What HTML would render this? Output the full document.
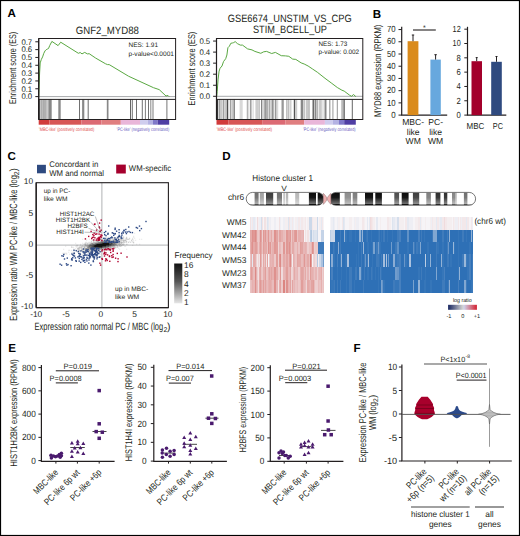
<!DOCTYPE html>
<html><head><meta charset="utf-8"><title>Figure</title>
<style>html,body{margin:0;padding:0;background:#fff;}body{width:520px;height:536px;overflow:hidden;font-family:"Liberation Sans", sans-serif;}svg{display:block;}text{text-rendering:geometricPrecision;}</style>
</head><body><svg width="520" height="536" viewBox="0 0 520 536" font-family='"Liberation Sans", sans-serif' fill="#231f20"><text x="7.60" y="16.90" font-size="11.6" fill="#000" font-weight="bold">A</text><text x="372.80" y="17.60" font-size="11.6" fill="#000" font-weight="bold">B</text><text x="7.40" y="159.90" font-size="11.6" fill="#000" font-weight="bold">C</text><text x="222.20" y="159.90" font-size="11.6" fill="#000" font-weight="bold">D</text><text x="8.20" y="352.20" font-size="11.6" fill="#000" font-weight="bold">E</text><text x="353.40" y="352.20" font-size="11.6" fill="#000" font-weight="bold">F</text><line x1="38.70" y1="96.60" x2="175.60" y2="96.60" stroke="#a7a9ac" stroke-width="1"/><polyline points="38.70,96.60 38.90,91.00 39.60,73.00 40.20,62.90 41.40,59.30 42.60,56.90 43.80,53.30 45.00,50.90 46.20,49.70 47.30,49.10 48.50,48.50 49.70,45.60 51.90,41.40 58.10,45.60 60.70,42.20 78.40,53.30 80.20,52.50 82.00,53.90 84.70,52.40 87.40,53.90 89.20,53.70 95.70,58.10 105.40,63.70 107.50,64.60 109.20,64.60 128.50,76.20 153.50,87.70 159.20,89.60 166.00,96.00 167.90,95.40 169.20,96.70" fill="none" stroke="#5aa842" stroke-width="1.0" stroke-linejoin="round"/><line x1="50.00" y1="99.40" x2="50.00" y2="119.50" stroke="#888" stroke-width="3.4000000000000057"/><line x1="59.50" y1="99.40" x2="59.50" y2="119.50" stroke="#8a8a8a" stroke-width="2.4000000000000057"/><line x1="45.65" y1="99.40" x2="45.65" y2="119.50" stroke="#b0b0b0" stroke-width="2.299999999999997"/><line x1="83.20" y1="99.40" x2="83.20" y2="119.50" stroke="#888" stroke-width="2.200000000000003"/><line x1="107.65" y1="99.40" x2="107.65" y2="119.50" stroke="#888" stroke-width="1.7000000000000028"/><line x1="38.90" y1="99.40" x2="38.90" y2="119.50" stroke="#000" stroke-width="1.4"/><line x1="42.30" y1="99.40" x2="42.30" y2="119.50" stroke="#bbb" stroke-width="1.3999999999999986"/><line x1="43.90" y1="99.40" x2="43.90" y2="119.50" stroke="#888" stroke-width="1.2000000000000028"/><line x1="47.40" y1="99.40" x2="47.40" y2="119.50" stroke="#ccc" stroke-width="1.2000000000000028"/><line x1="41.05" y1="99.40" x2="41.05" y2="119.50" stroke="#888" stroke-width="1.1000000000000014"/><line x1="153.00" y1="99.40" x2="153.00" y2="119.50" stroke="#888" stroke-width="1.1"/><line x1="166.90" y1="99.40" x2="166.90" y2="119.50" stroke="#666" stroke-width="0.9"/><line x1="88.20" y1="99.40" x2="88.20" y2="119.50" stroke="#444" stroke-width="0.8"/><line x1="79.50" y1="99.40" x2="79.50" y2="119.50" stroke="#333" stroke-width="0.7"/><line x1="130.50" y1="99.40" x2="130.50" y2="119.50" stroke="#222" stroke-width="0.7"/><line x1="132.30" y1="99.40" x2="132.30" y2="119.50" stroke="#333" stroke-width="0.7"/><line x1="136.50" y1="99.40" x2="136.50" y2="119.50" stroke="#333" stroke-width="0.7"/><line x1="142.30" y1="99.40" x2="142.30" y2="119.50" stroke="#333" stroke-width="0.7"/><line x1="145.40" y1="99.40" x2="145.40" y2="119.50" stroke="#444" stroke-width="0.7"/><line x1="148.50" y1="99.40" x2="148.50" y2="119.50" stroke="#333" stroke-width="0.7"/><line x1="150.80" y1="99.40" x2="150.80" y2="119.50" stroke="#555" stroke-width="0.7"/><rect x="38.70" y="38.50" width="136.90" height="81.00" fill="none" stroke="#231f20" stroke-width="1"/><line x1="38.70" y1="99.40" x2="175.60" y2="99.40" stroke="#231f20" stroke-width="1"/><line x1="38.70" y1="38.50" x2="38.70" y2="119.50" stroke="#231f20" stroke-width="1.2"/><line x1="35.30" y1="96.60" x2="38.70" y2="96.60" stroke="#231f20" stroke-width="1"/><text x="32.20" y="99.40" font-size="8.1" text-anchor="end" textLength="10.80" lengthAdjust="spacingAndGlyphs">0.0</text><line x1="35.30" y1="88.77" x2="38.70" y2="88.77" stroke="#231f20" stroke-width="1"/><text x="32.20" y="91.57" font-size="8.1" text-anchor="end" textLength="10.80" lengthAdjust="spacingAndGlyphs">0.1</text><line x1="35.30" y1="80.94" x2="38.70" y2="80.94" stroke="#231f20" stroke-width="1"/><text x="32.20" y="83.74" font-size="8.1" text-anchor="end" textLength="10.80" lengthAdjust="spacingAndGlyphs">0.2</text><line x1="35.30" y1="73.11" x2="38.70" y2="73.11" stroke="#231f20" stroke-width="1"/><text x="32.20" y="75.91" font-size="8.1" text-anchor="end" textLength="10.80" lengthAdjust="spacingAndGlyphs">0.3</text><line x1="35.30" y1="65.28" x2="38.70" y2="65.28" stroke="#231f20" stroke-width="1"/><text x="32.20" y="68.08" font-size="8.1" text-anchor="end" textLength="10.80" lengthAdjust="spacingAndGlyphs">0.4</text><line x1="35.30" y1="57.45" x2="38.70" y2="57.45" stroke="#231f20" stroke-width="1"/><text x="32.20" y="60.25" font-size="8.1" text-anchor="end" textLength="10.80" lengthAdjust="spacingAndGlyphs">0.5</text><line x1="35.30" y1="49.62" x2="38.70" y2="49.62" stroke="#231f20" stroke-width="1"/><text x="32.20" y="52.42" font-size="8.1" text-anchor="end" textLength="10.80" lengthAdjust="spacingAndGlyphs">0.6</text><line x1="35.30" y1="41.79" x2="38.70" y2="41.79" stroke="#231f20" stroke-width="1"/><text x="32.20" y="44.59" font-size="8.1" text-anchor="end" textLength="10.80" lengthAdjust="spacingAndGlyphs">0.7</text><text x="16.40" y="67.90" font-size="9.8" text-anchor="middle" textLength="72.20" lengthAdjust="spacingAndGlyphs" transform="rotate(-90 16.40 67.90)">Enrichment score (ES)</text><rect x="38.70" y="120.00" width="10.80" height="4.70" fill="#d13b3b"/><rect x="49.50" y="120.00" width="32.00" height="4.70" fill="#d75656"/><rect x="81.50" y="120.00" width="19.90" height="4.70" fill="#dc6a74"/><rect x="101.40" y="120.00" width="19.40" height="4.70" fill="#e07e80"/><rect x="120.80" y="120.00" width="19.20" height="4.70" fill="#e9b6d9"/><rect x="140.00" y="120.00" width="7.70" height="4.70" fill="#cfcdee"/><rect x="147.70" y="120.00" width="5.30" height="4.70" fill="#b4b2e3"/><rect x="153.00" y="120.00" width="4.70" height="4.70" fill="#7f78c9"/><rect x="157.70" y="120.00" width="11.50" height="4.70" fill="#4f3ea4"/><text x="107.30" y="33.50" font-size="10.6" text-anchor="middle" textLength="63.10" lengthAdjust="spacingAndGlyphs">GNF2_MYD88</text><text x="128.50" y="47.30" font-size="6.5" textLength="29.50" lengthAdjust="spacingAndGlyphs">NES: 1.91</text><text x="128.50" y="55.60" font-size="6.5" textLength="45.50" lengthAdjust="spacingAndGlyphs">p-value&lt;0.0001</text><text x="38.80" y="131.20" font-size="5.0" textLength="55.50" lengthAdjust="spacingAndGlyphs" fill="#e0494a">&#8217;MBC-like&#8217; (positively correlated)</text><text x="116.60" y="131.00" font-size="5.0" textLength="52.60" lengthAdjust="spacingAndGlyphs" fill="#6a5cc0">&#8217;PC-like&#8217; (negatively correlated)</text><line x1="216.50" y1="96.30" x2="362.80" y2="96.30" stroke="#a7a9ac" stroke-width="1"/><polyline points="216.60,96.80 217.20,91.60 218.10,79.10 219.10,71.10 220.10,68.20 222.00,66.00 223.50,61.60 225.70,58.70 226.90,55.00 227.90,47.70 229.40,46.20 230.80,43.30 232.30,43.00 233.70,42.60 235.20,41.60 237.40,43.60 240.30,45.10 242.50,45.10 247.60,48.90 252.00,49.90 254.90,51.40 260.80,53.30 263.70,51.80 266.60,51.40 271.70,53.50 275.40,52.40 281.30,55.70 285.60,55.90 288.80,56.30 292.70,59.10 295.80,59.40 301.20,62.90 304.20,64.00 308.10,66.00 312.70,69.10 317.30,72.20 325.00,78.30 331.20,82.90 337.30,87.50 341.90,90.20 344.20,91.10 349.60,95.20 351.50,96.30 353.50,94.50 355.80,96.60" fill="none" stroke="#5aa842" stroke-width="1.0" stroke-linejoin="round"/><line x1="266.00" y1="99.40" x2="266.00" y2="119.50" stroke="#b0b0b0" stroke-width="5.0"/><line x1="307.25" y1="99.40" x2="307.25" y2="119.50" stroke="#c8c8c8" stroke-width="3.1000000000000227"/><line x1="241.15" y1="99.40" x2="241.15" y2="119.50" stroke="#d8d8d8" stroke-width="3.0999999999999943"/><line x1="256.95" y1="99.40" x2="256.95" y2="119.50" stroke="#cdcdcd" stroke-width="3.0999999999999943"/><line x1="320.30" y1="99.40" x2="320.30" y2="119.50" stroke="#c8c8c8" stroke-width="3.0"/><line x1="221.35" y1="99.40" x2="221.35" y2="119.50" stroke="#c8c8c8" stroke-width="2.6999999999999886"/><line x1="302.05" y1="99.40" x2="302.05" y2="119.50" stroke="#888" stroke-width="2.6999999999999886"/><line x1="342.50" y1="99.40" x2="342.50" y2="119.50" stroke="#bbb" stroke-width="2.6000000000000227"/><line x1="225.35" y1="99.40" x2="225.35" y2="119.50" stroke="#c8c8c8" stroke-width="2.3000000000000114"/><line x1="282.65" y1="99.40" x2="282.65" y2="119.50" stroke="#999" stroke-width="2.3000000000000114"/><line x1="315.50" y1="99.40" x2="315.50" y2="119.50" stroke="#888" stroke-width="2.0"/><line x1="325.50" y1="99.40" x2="325.50" y2="119.50" stroke="#888" stroke-width="2.0"/><line x1="286.85" y1="99.40" x2="286.85" y2="119.50" stroke="#c0c0c0" stroke-width="1.6999999999999886"/><line x1="271.20" y1="99.40" x2="271.20" y2="119.50" stroke="#c8c8c8" stroke-width="1.6000000000000227"/><line x1="232.75" y1="99.40" x2="232.75" y2="119.50" stroke="#c8c8c8" stroke-width="1.5"/><line x1="250.75" y1="99.40" x2="250.75" y2="119.50" stroke="#c0c0c0" stroke-width="1.5"/><line x1="275.75" y1="99.40" x2="275.75" y2="119.50" stroke="#999" stroke-width="1.5"/><line x1="290.75" y1="99.40" x2="290.75" y2="119.50" stroke="#d0d0d0" stroke-width="1.5"/><line x1="294.55" y1="99.40" x2="294.55" y2="119.50" stroke="#555" stroke-width="1.5"/><line x1="296.60" y1="99.40" x2="296.60" y2="119.50" stroke="#ccc" stroke-width="1.1999999999999886"/><line x1="313.20" y1="99.40" x2="313.20" y2="119.50" stroke="#444" stroke-width="1.1999999999999886"/><line x1="329.80" y1="99.40" x2="329.80" y2="119.50" stroke="#999" stroke-width="1.1999999999999886"/><line x1="332.90" y1="99.40" x2="332.90" y2="119.50" stroke="#aaa" stroke-width="1.1999999999999886"/><line x1="261.75" y1="99.40" x2="261.75" y2="119.50" stroke="#666" stroke-width="1.1000000000000227"/><line x1="217.30" y1="99.40" x2="217.30" y2="119.50" stroke="#111" stroke-width="1.1"/><line x1="227.30" y1="99.40" x2="227.30" y2="119.50" stroke="#222" stroke-width="1.0"/><line x1="234.20" y1="99.40" x2="234.20" y2="119.50" stroke="#444" stroke-width="0.9"/><line x1="344.20" y1="99.40" x2="344.20" y2="119.50" stroke="#333" stroke-width="0.9"/><line x1="352.30" y1="99.40" x2="352.30" y2="119.50" stroke="#555" stroke-width="0.9"/><line x1="253.10" y1="99.40" x2="253.10" y2="119.50" stroke="#ccc" stroke-width="0.8000000000000114"/><line x1="219.20" y1="99.40" x2="219.20" y2="119.50" stroke="#555" stroke-width="0.8"/><line x1="230.80" y1="99.40" x2="230.80" y2="119.50" stroke="#555" stroke-width="0.8"/><line x1="247.30" y1="99.40" x2="247.30" y2="119.50" stroke="#888" stroke-width="0.8"/><line x1="250.80" y1="99.40" x2="250.80" y2="119.50" stroke="#888" stroke-width="0.8"/><line x1="272.70" y1="99.40" x2="272.70" y2="119.50" stroke="#555" stroke-width="0.8"/><line x1="288.80" y1="99.40" x2="288.80" y2="119.50" stroke="#888" stroke-width="0.8"/><line x1="337.30" y1="99.40" x2="337.30" y2="119.50" stroke="#777" stroke-width="0.8"/><line x1="223.50" y1="99.40" x2="223.50" y2="119.50" stroke="#777" stroke-width="0.7"/><line x1="228.80" y1="99.40" x2="228.80" y2="119.50" stroke="#aaa" stroke-width="0.7"/><line x1="248.80" y1="99.40" x2="248.80" y2="119.50" stroke="#bbb" stroke-width="0.7"/><line x1="259.20" y1="99.40" x2="259.20" y2="119.50" stroke="#888" stroke-width="0.7"/><line x1="269.60" y1="99.40" x2="269.60" y2="119.50" stroke="#777" stroke-width="0.7"/><line x1="273.80" y1="99.40" x2="273.80" y2="119.50" stroke="#888" stroke-width="0.7"/><line x1="277.70" y1="99.40" x2="277.70" y2="119.50" stroke="#bbb" stroke-width="0.7"/><line x1="304.50" y1="99.40" x2="304.50" y2="119.50" stroke="#aaa" stroke-width="0.7"/><line x1="309.20" y1="99.40" x2="309.20" y2="119.50" stroke="#888" stroke-width="0.7"/><line x1="317.60" y1="99.40" x2="317.60" y2="119.50" stroke="#888" stroke-width="0.7"/><line x1="323.00" y1="99.40" x2="323.00" y2="119.50" stroke="#bbb" stroke-width="0.7"/><line x1="265.50" y1="99.40" x2="265.50" y2="119.50" stroke="#888" stroke-width="0.6"/><rect x="216.50" y="38.50" width="146.30" height="81.00" fill="none" stroke="#231f20" stroke-width="1"/><line x1="216.50" y1="99.40" x2="362.80" y2="99.40" stroke="#231f20" stroke-width="1"/><line x1="216.50" y1="38.50" x2="216.50" y2="119.50" stroke="#231f20" stroke-width="1.2"/><line x1="213.10" y1="96.30" x2="216.50" y2="96.30" stroke="#231f20" stroke-width="1"/><text x="210.20" y="99.10" font-size="8.1" text-anchor="end" textLength="10.80" lengthAdjust="spacingAndGlyphs">0.0</text><line x1="213.10" y1="85.25" x2="216.50" y2="85.25" stroke="#231f20" stroke-width="1"/><text x="210.20" y="88.05" font-size="8.1" text-anchor="end" textLength="10.80" lengthAdjust="spacingAndGlyphs">0.1</text><line x1="213.10" y1="74.20" x2="216.50" y2="74.20" stroke="#231f20" stroke-width="1"/><text x="210.20" y="77.00" font-size="8.1" text-anchor="end" textLength="10.80" lengthAdjust="spacingAndGlyphs">0.2</text><line x1="213.10" y1="63.15" x2="216.50" y2="63.15" stroke="#231f20" stroke-width="1"/><text x="210.20" y="65.95" font-size="8.1" text-anchor="end" textLength="10.80" lengthAdjust="spacingAndGlyphs">0.3</text><line x1="213.10" y1="52.10" x2="216.50" y2="52.10" stroke="#231f20" stroke-width="1"/><text x="210.20" y="54.90" font-size="8.1" text-anchor="end" textLength="10.80" lengthAdjust="spacingAndGlyphs">0.4</text><line x1="213.10" y1="41.05" x2="216.50" y2="41.05" stroke="#231f20" stroke-width="1"/><text x="210.20" y="43.85" font-size="8.1" text-anchor="end" textLength="10.80" lengthAdjust="spacingAndGlyphs">0.5</text><text x="194.90" y="68.60" font-size="9.8" text-anchor="middle" textLength="73.80" lengthAdjust="spacingAndGlyphs" transform="rotate(-90 194.90 68.60)">Enrichment score (ES)</text><rect x="216.50" y="120.00" width="12.10" height="4.70" fill="#d13b3b"/><rect x="228.60" y="120.00" width="34.10" height="4.70" fill="#d75656"/><rect x="262.70" y="120.00" width="22.90" height="4.70" fill="#dc6a74"/><rect x="285.60" y="120.00" width="18.60" height="4.70" fill="#e07e80"/><rect x="304.20" y="120.00" width="20.70" height="4.70" fill="#e9b6d9"/><rect x="324.90" y="120.00" width="7.80" height="4.70" fill="#cfcdee"/><rect x="332.70" y="120.00" width="6.10" height="4.70" fill="#b4b2e3"/><rect x="338.80" y="120.00" width="5.40" height="4.70" fill="#7f78c9"/><rect x="344.20" y="120.00" width="11.60" height="4.70" fill="#4f3ea4"/><text x="289.70" y="22.00" font-size="10.6" text-anchor="middle" textLength="123.90" lengthAdjust="spacingAndGlyphs">GSE6674_UNSTIM_VS_CPG</text><text x="290.00" y="33.00" font-size="10.6" text-anchor="middle" textLength="74.00" lengthAdjust="spacingAndGlyphs">STIM_BCELL_UP</text><text x="318.50" y="46.00" font-size="6.5" textLength="28.80" lengthAdjust="spacingAndGlyphs">NES: 1.73</text><text x="318.50" y="53.70" font-size="6.5" textLength="40.70" lengthAdjust="spacingAndGlyphs">p-value: 0.002</text><text x="216.60" y="131.20" font-size="5.0" textLength="55.50" lengthAdjust="spacingAndGlyphs" fill="#e0494a">&#8217;MBC-like&#8217; (positively correlated)</text><text x="303.00" y="131.00" font-size="5.0" textLength="52.60" lengthAdjust="spacingAndGlyphs" fill="#6a5cc0">&#8217;PC-like&#8217; (negatively correlated)</text><line x1="401.70" y1="26.80" x2="401.70" y2="115.10" stroke="#231f20" stroke-width="1.2"/><line x1="401.10" y1="115.10" x2="447.20" y2="115.10" stroke="#231f20" stroke-width="1.2"/><line x1="398.50" y1="115.10" x2="401.70" y2="115.10" stroke="#231f20" stroke-width="1"/><text x="395.60" y="117.80" font-size="8.9" text-anchor="end" textLength="4.40" lengthAdjust="spacingAndGlyphs">0</text><line x1="398.50" y1="102.88" x2="401.70" y2="102.88" stroke="#231f20" stroke-width="1"/><text x="395.60" y="105.58" font-size="8.9" text-anchor="end" textLength="8.60" lengthAdjust="spacingAndGlyphs">10</text><line x1="398.50" y1="90.66" x2="401.70" y2="90.66" stroke="#231f20" stroke-width="1"/><text x="395.60" y="93.36" font-size="8.9" text-anchor="end" textLength="8.60" lengthAdjust="spacingAndGlyphs">20</text><line x1="398.50" y1="78.44" x2="401.70" y2="78.44" stroke="#231f20" stroke-width="1"/><text x="395.60" y="81.14" font-size="8.9" text-anchor="end" textLength="8.60" lengthAdjust="spacingAndGlyphs">30</text><line x1="398.50" y1="66.22" x2="401.70" y2="66.22" stroke="#231f20" stroke-width="1"/><text x="395.60" y="68.92" font-size="8.9" text-anchor="end" textLength="8.60" lengthAdjust="spacingAndGlyphs">40</text><line x1="398.50" y1="54.00" x2="401.70" y2="54.00" stroke="#231f20" stroke-width="1"/><text x="395.60" y="56.70" font-size="8.9" text-anchor="end" textLength="8.60" lengthAdjust="spacingAndGlyphs">50</text><line x1="398.50" y1="41.78" x2="401.70" y2="41.78" stroke="#231f20" stroke-width="1"/><text x="395.60" y="44.48" font-size="8.9" text-anchor="end" textLength="8.60" lengthAdjust="spacingAndGlyphs">60</text><line x1="398.50" y1="29.56" x2="401.70" y2="29.56" stroke="#231f20" stroke-width="1"/><text x="395.60" y="32.26" font-size="8.9" text-anchor="end" textLength="8.60" lengthAdjust="spacingAndGlyphs">70</text><rect x="407.60" y="41.20" width="10.80" height="73.90" fill="#da8b1c"/><line x1="413.00" y1="35.00" x2="413.00" y2="41.20" stroke="#231f20" stroke-width="1"/><line x1="411.80" y1="35.00" x2="414.20" y2="35.00" stroke="#231f20" stroke-width="1"/><rect x="430.40" y="59.60" width="10.40" height="55.50" fill="#67a8de"/><line x1="435.60" y1="54.70" x2="435.60" y2="59.60" stroke="#231f20" stroke-width="1"/><line x1="434.40" y1="54.70" x2="436.80" y2="54.70" stroke="#231f20" stroke-width="1"/><line x1="413.00" y1="30.00" x2="435.80" y2="30.00" stroke="#231f20" stroke-width="1.1"/><text x="424.30" y="30.40" font-size="7" text-anchor="middle">*</text><text x="381.00" y="70.80" font-size="9.8" text-anchor="middle" textLength="92.30" lengthAdjust="spacingAndGlyphs" transform="rotate(-90 381.00 70.80)">MYD88 expression (RPKM)</text><text x="413.20" y="125.40" font-size="8.6" text-anchor="middle">MBC-</text><text x="413.20" y="134.60" font-size="8.6" text-anchor="middle">like</text><text x="413.20" y="143.80" font-size="8.6" text-anchor="middle">WM</text><text x="435.60" y="125.40" font-size="8.6" text-anchor="middle">PC-</text><text x="435.60" y="134.60" font-size="8.6" text-anchor="middle">like</text><text x="435.60" y="143.80" font-size="8.6" text-anchor="middle">WM</text><line x1="467.50" y1="26.80" x2="467.50" y2="115.10" stroke="#231f20" stroke-width="1.2"/><line x1="466.90" y1="115.10" x2="506.30" y2="115.10" stroke="#231f20" stroke-width="1.2"/><line x1="464.30" y1="115.10" x2="467.50" y2="115.10" stroke="#231f20" stroke-width="1"/><text x="460.70" y="118.00" font-size="8.8" text-anchor="end" textLength="4.30" lengthAdjust="spacingAndGlyphs">0</text><line x1="464.30" y1="100.78" x2="467.50" y2="100.78" stroke="#231f20" stroke-width="1"/><text x="460.70" y="103.68" font-size="8.8" text-anchor="end" textLength="4.30" lengthAdjust="spacingAndGlyphs">2</text><line x1="464.30" y1="86.46" x2="467.50" y2="86.46" stroke="#231f20" stroke-width="1"/><text x="460.70" y="89.36" font-size="8.8" text-anchor="end" textLength="4.30" lengthAdjust="spacingAndGlyphs">4</text><line x1="464.30" y1="72.14" x2="467.50" y2="72.14" stroke="#231f20" stroke-width="1"/><text x="460.70" y="75.04" font-size="8.8" text-anchor="end" textLength="4.30" lengthAdjust="spacingAndGlyphs">6</text><line x1="464.30" y1="57.82" x2="467.50" y2="57.82" stroke="#231f20" stroke-width="1"/><text x="460.70" y="60.72" font-size="8.8" text-anchor="end" textLength="4.30" lengthAdjust="spacingAndGlyphs">8</text><line x1="464.30" y1="43.50" x2="467.50" y2="43.50" stroke="#231f20" stroke-width="1"/><text x="460.70" y="46.40" font-size="8.8" text-anchor="end" textLength="8.10" lengthAdjust="spacingAndGlyphs">10</text><line x1="464.30" y1="29.18" x2="467.50" y2="29.18" stroke="#231f20" stroke-width="1"/><text x="460.70" y="32.08" font-size="8.8" text-anchor="end" textLength="8.10" lengthAdjust="spacingAndGlyphs">12</text><rect x="471.50" y="61.20" width="10.50" height="53.90" fill="#a3002b"/><line x1="476.70" y1="57.60" x2="476.70" y2="61.20" stroke="#231f20" stroke-width="1"/><line x1="475.70" y1="57.60" x2="477.70" y2="57.60" stroke="#231f20" stroke-width="1"/><rect x="491.20" y="61.80" width="10.60" height="53.30" fill="#2f4a7f"/><line x1="496.50" y1="56.50" x2="496.50" y2="61.80" stroke="#231f20" stroke-width="1"/><line x1="495.50" y1="56.50" x2="497.50" y2="56.50" stroke="#231f20" stroke-width="1"/><text x="475.40" y="129.20" font-size="8.6" text-anchor="middle" textLength="17.80" lengthAdjust="spacingAndGlyphs">MBC</text><text x="497.90" y="129.20" font-size="8.6" text-anchor="middle" textLength="10.20" lengthAdjust="spacingAndGlyphs">PC</text><line x1="101.90" y1="182.70" x2="101.90" y2="307.60" stroke="#b0b2b4" stroke-width="1"/><line x1="36.20" y1="245.10" x2="168.40" y2="245.10" stroke="#b0b2b4" stroke-width="1"/><filter id="bl1" x="-5%" y="-5%" width="110%" height="110%"><feGaussianBlur stdDeviation="0.55"/></filter><g filter="url(#bl1)"><path d="M134.2 232.7h1v1h-1zM110.2 234.7h1v1h-1zM121.2 234.7h1v1h-1zM98.2 235.7h1v1h-1zM118.2 235.7h1v1h-1zM121.2 235.7h1v1h-1zM123.2 235.7h1v1h-1zM133.2 235.7h1v1h-1zM106.2 236.7h1v1h-1zM108.2 236.7h1v1h-1zM110.2 236.7h1v1h-1zM113.2 236.7h1v1h-1zM116.2 236.7h1v1h-1zM118.2 236.7h1v1h-1zM119.2 236.7h1v1h-1zM121.2 236.7h1v1h-1zM133.2 236.7h1v1h-1zM103.2 237.7h1v1h-1zM105.2 237.7h1v1h-1zM106.2 237.7h1v1h-1zM107.2 237.7h1v1h-1zM111.2 237.7h1v1h-1zM112.2 237.7h1v1h-1zM113.2 237.7h1v1h-1zM115.2 237.7h1v1h-1zM116.2 237.7h1v1h-1zM120.2 237.7h1v1h-1zM125.2 237.7h1v1h-1zM132.2 237.7h1v1h-1zM134.2 237.7h1v1h-1zM82.2 238.7h1v1h-1zM89.2 238.7h1v1h-1zM101.2 238.7h1v1h-1zM102.2 238.7h1v1h-1zM107.2 238.7h1v1h-1zM108.2 238.7h1v1h-1zM115.2 238.7h1v1h-1zM117.2 238.7h1v1h-1zM119.2 238.7h1v1h-1zM122.2 238.7h1v1h-1zM123.2 238.7h1v1h-1zM125.2 238.7h1v1h-1zM129.2 238.7h1v1h-1zM139.2 238.7h1v1h-1zM141.2 238.7h1v1h-1zM86.2 239.7h1v1h-1zM94.2 239.7h1v1h-1zM99.2 239.7h1v1h-1zM112.2 239.7h1v1h-1zM119.2 239.7h1v1h-1zM133.2 239.7h1v1h-1zM135.2 239.7h1v1h-1zM95.2 240.7h1v1h-1zM118.2 240.7h1v1h-1zM120.2 240.7h1v1h-1zM121.2 240.7h1v1h-1zM124.2 240.7h1v1h-1zM125.2 240.7h1v1h-1zM129.2 240.7h1v1h-1zM131.2 240.7h1v1h-1zM132.2 240.7h1v1h-1zM85.2 241.7h1v1h-1zM86.2 241.7h1v1h-1zM88.2 241.7h1v1h-1zM89.2 241.7h1v1h-1zM90.2 241.7h1v1h-1zM91.2 241.7h1v1h-1zM125.2 241.7h1v1h-1zM132.2 241.7h1v1h-1zM75.2 242.7h1v1h-1zM82.2 242.7h1v1h-1zM84.2 242.7h1v1h-1zM86.2 242.7h1v1h-1zM88.2 242.7h1v1h-1zM89.2 242.7h1v1h-1zM120.2 242.7h1v1h-1zM123.2 242.7h1v1h-1zM133.2 242.7h1v1h-1zM80.2 243.7h1v1h-1zM83.2 243.7h1v1h-1zM86.2 243.7h1v1h-1zM88.2 243.7h1v1h-1zM117.2 243.7h1v1h-1zM121.2 243.7h1v1h-1zM124.2 243.7h1v1h-1zM127.2 243.7h1v1h-1zM136.2 243.7h1v1h-1zM139.2 243.7h1v1h-1zM76.2 244.7h1v1h-1zM77.2 244.7h1v1h-1zM80.2 244.7h1v1h-1zM82.2 244.7h1v1h-1zM84.2 244.7h1v1h-1zM118.2 244.7h1v1h-1zM120.2 244.7h1v1h-1zM122.2 244.7h1v1h-1zM123.2 244.7h1v1h-1zM132.2 244.7h1v1h-1zM65.2 245.7h1v1h-1zM71.2 245.7h1v1h-1zM75.2 245.7h1v1h-1zM76.2 245.7h1v1h-1zM77.2 245.7h1v1h-1zM79.2 245.7h1v1h-1zM80.2 245.7h1v1h-1zM115.2 245.7h1v1h-1zM116.2 245.7h1v1h-1zM118.2 245.7h1v1h-1zM121.2 245.7h1v1h-1zM124.2 245.7h1v1h-1zM125.2 245.7h1v1h-1zM72.2 246.7h1v1h-1zM73.2 246.7h1v1h-1zM76.2 246.7h1v1h-1zM78.2 246.7h1v1h-1zM82.2 246.7h1v1h-1zM83.2 246.7h1v1h-1zM116.2 246.7h1v1h-1zM75.2 247.7h1v1h-1zM80.2 247.7h1v1h-1zM82.2 247.7h1v1h-1zM111.2 247.7h1v1h-1zM112.2 247.7h1v1h-1zM115.2 247.7h1v1h-1zM118.2 247.7h1v1h-1zM63.2 248.7h1v1h-1zM74.2 248.7h1v1h-1zM79.2 248.7h1v1h-1zM106.2 248.7h1v1h-1zM110.2 248.7h1v1h-1zM111.2 248.7h1v1h-1zM119.2 248.7h1v1h-1zM126.2 248.7h1v1h-1zM68.2 249.7h1v1h-1zM69.2 249.7h1v1h-1zM71.2 249.7h1v1h-1zM74.2 249.7h1v1h-1zM80.2 249.7h1v1h-1zM83.2 249.7h1v1h-1zM84.2 249.7h1v1h-1zM85.2 249.7h1v1h-1zM86.2 249.7h1v1h-1zM93.2 249.7h1v1h-1zM104.2 249.7h1v1h-1zM105.2 249.7h1v1h-1zM77.2 250.7h1v1h-1zM78.2 250.7h1v1h-1zM80.2 250.7h1v1h-1zM83.2 250.7h1v1h-1zM84.2 250.7h1v1h-1zM85.2 250.7h1v1h-1zM87.2 250.7h1v1h-1zM92.2 250.7h1v1h-1zM94.2 250.7h1v1h-1zM96.2 250.7h1v1h-1zM98.2 250.7h1v1h-1zM99.2 250.7h1v1h-1zM104.2 250.7h1v1h-1zM68.2 251.7h1v1h-1zM71.2 251.7h1v1h-1zM72.2 251.7h1v1h-1zM77.2 251.7h1v1h-1zM80.2 251.7h1v1h-1zM83.2 251.7h1v1h-1zM85.2 251.7h1v1h-1zM86.2 251.7h1v1h-1zM88.2 251.7h1v1h-1zM89.2 251.7h1v1h-1zM90.2 251.7h1v1h-1zM92.2 251.7h1v1h-1zM96.2 251.7h1v1h-1zM98.2 251.7h1v1h-1zM99.2 251.7h1v1h-1zM100.2 251.7h1v1h-1zM62.2 252.7h1v1h-1zM63.2 252.7h1v1h-1zM64.2 252.7h1v1h-1zM65.2 252.7h1v1h-1zM66.2 252.7h1v1h-1zM79.2 252.7h1v1h-1zM83.2 252.7h1v1h-1zM84.2 252.7h1v1h-1zM87.2 252.7h1v1h-1zM89.2 252.7h1v1h-1zM91.2 252.7h1v1h-1zM96.2 252.7h1v1h-1zM103.2 252.7h1v1h-1zM64.2 253.7h1v1h-1zM66.2 253.7h1v1h-1zM69.2 253.7h1v1h-1zM72.2 253.7h1v1h-1zM78.2 253.7h1v1h-1zM81.2 253.7h1v1h-1zM82.2 253.7h1v1h-1zM83.2 253.7h1v1h-1zM84.2 253.7h1v1h-1zM92.2 253.7h1v1h-1zM94.2 253.7h1v1h-1zM100.2 253.7h1v1h-1zM73.2 254.7h1v1h-1zM74.2 254.7h1v1h-1zM86.2 254.7h1v1h-1zM93.2 254.7h1v1h-1zM79.2 255.7h1v1h-1z" fill="#000" fill-opacity="0.115"/><path d="M112.2 236.7h1v1h-1zM123.2 236.7h1v1h-1zM126.2 236.7h1v1h-1zM114.2 237.7h1v1h-1zM118.2 237.7h1v1h-1zM123.2 237.7h1v1h-1zM129.2 237.7h1v1h-1zM100.2 238.7h1v1h-1zM106.2 238.7h1v1h-1zM110.2 238.7h1v1h-1zM112.2 238.7h1v1h-1zM113.2 238.7h1v1h-1zM118.2 238.7h1v1h-1zM120.2 238.7h1v1h-1zM126.2 238.7h1v1h-1zM127.2 238.7h1v1h-1zM128.2 238.7h1v1h-1zM132.2 238.7h1v1h-1zM92.2 239.7h1v1h-1zM95.2 239.7h1v1h-1zM98.2 239.7h1v1h-1zM100.2 239.7h1v1h-1zM101.2 239.7h1v1h-1zM102.2 239.7h1v1h-1zM103.2 239.7h1v1h-1zM108.2 239.7h1v1h-1zM111.2 239.7h1v1h-1zM114.2 239.7h1v1h-1zM120.2 239.7h1v1h-1zM121.2 239.7h1v1h-1zM122.2 239.7h1v1h-1zM91.2 240.7h1v1h-1zM93.2 240.7h1v1h-1zM95.2 241.7h1v1h-1zM123.2 241.7h1v1h-1zM124.2 241.7h1v1h-1zM126.2 241.7h1v1h-1zM130.2 241.7h1v1h-1zM85.2 242.7h1v1h-1zM87.2 242.7h1v1h-1zM90.2 242.7h1v1h-1zM118.2 242.7h1v1h-1zM84.2 243.7h1v1h-1zM87.2 243.7h1v1h-1zM123.2 243.7h1v1h-1zM126.2 243.7h1v1h-1zM86.2 244.7h1v1h-1zM121.2 244.7h1v1h-1zM81.2 245.7h1v1h-1zM83.2 245.7h1v1h-1zM117.2 245.7h1v1h-1zM119.2 245.7h1v1h-1zM120.2 245.7h1v1h-1zM71.2 246.7h1v1h-1zM80.2 246.7h1v1h-1zM112.2 246.7h1v1h-1zM115.2 246.7h1v1h-1zM117.2 246.7h1v1h-1zM79.2 247.7h1v1h-1zM81.2 247.7h1v1h-1zM83.2 247.7h1v1h-1zM84.2 247.7h1v1h-1zM106.2 247.7h1v1h-1zM107.2 247.7h1v1h-1zM73.2 248.7h1v1h-1zM77.2 248.7h1v1h-1zM78.2 248.7h1v1h-1zM84.2 248.7h1v1h-1zM96.2 248.7h1v1h-1zM102.2 248.7h1v1h-1zM103.2 248.7h1v1h-1zM109.2 248.7h1v1h-1zM82.2 249.7h1v1h-1zM90.2 249.7h1v1h-1zM94.2 249.7h1v1h-1zM97.2 249.7h1v1h-1zM103.2 249.7h1v1h-1zM108.2 249.7h1v1h-1zM79.2 250.7h1v1h-1zM88.2 250.7h1v1h-1zM89.2 250.7h1v1h-1zM90.2 250.7h1v1h-1zM91.2 250.7h1v1h-1zM93.2 250.7h1v1h-1zM100.2 250.7h1v1h-1zM101.2 250.7h1v1h-1zM84.2 251.7h1v1h-1zM93.2 251.7h1v1h-1zM95.2 251.7h1v1h-1zM74.2 252.7h1v1h-1zM78.2 252.7h1v1h-1zM94.2 252.7h1v1h-1zM97.2 252.7h1v1h-1z" fill="#000" fill-opacity="0.230"/><path d="M126.2 237.7h1v1h-1zM104.2 238.7h1v1h-1zM105.2 238.7h1v1h-1zM109.2 238.7h1v1h-1zM114.2 238.7h1v1h-1zM116.2 238.7h1v1h-1zM93.2 239.7h1v1h-1zM105.2 239.7h1v1h-1zM106.2 239.7h1v1h-1zM107.2 239.7h1v1h-1zM109.2 239.7h1v1h-1zM118.2 239.7h1v1h-1zM123.2 239.7h1v1h-1zM124.2 239.7h1v1h-1zM131.2 239.7h1v1h-1zM96.2 240.7h1v1h-1zM98.2 240.7h1v1h-1zM100.2 240.7h1v1h-1zM101.2 240.7h1v1h-1zM112.2 240.7h1v1h-1zM116.2 240.7h1v1h-1zM123.2 240.7h1v1h-1zM126.2 240.7h1v1h-1zM93.2 241.7h1v1h-1zM94.2 241.7h1v1h-1zM96.2 241.7h1v1h-1zM117.2 241.7h1v1h-1zM118.2 241.7h1v1h-1zM119.2 241.7h1v1h-1zM120.2 241.7h1v1h-1zM122.2 241.7h1v1h-1zM128.2 241.7h1v1h-1zM133.2 241.7h1v1h-1zM93.2 242.7h1v1h-1zM85.2 243.7h1v1h-1zM119.2 243.7h1v1h-1zM120.2 243.7h1v1h-1zM122.2 243.7h1v1h-1zM85.2 244.7h1v1h-1zM87.2 244.7h1v1h-1zM117.2 244.7h1v1h-1zM119.2 244.7h1v1h-1zM82.2 245.7h1v1h-1zM84.2 245.7h1v1h-1zM85.2 245.7h1v1h-1zM114.2 245.7h1v1h-1zM79.2 246.7h1v1h-1zM81.2 246.7h1v1h-1zM109.2 246.7h1v1h-1zM111.2 246.7h1v1h-1zM113.2 246.7h1v1h-1zM114.2 246.7h1v1h-1zM77.2 247.7h1v1h-1zM78.2 247.7h1v1h-1zM102.2 247.7h1v1h-1zM104.2 247.7h1v1h-1zM108.2 247.7h1v1h-1zM109.2 247.7h1v1h-1zM81.2 248.7h1v1h-1zM82.2 248.7h1v1h-1zM86.2 248.7h1v1h-1zM89.2 248.7h1v1h-1zM97.2 248.7h1v1h-1zM101.2 248.7h1v1h-1zM104.2 248.7h1v1h-1zM105.2 248.7h1v1h-1zM78.2 249.7h1v1h-1zM79.2 249.7h1v1h-1zM81.2 249.7h1v1h-1zM88.2 249.7h1v1h-1zM91.2 249.7h1v1h-1zM92.2 249.7h1v1h-1zM95.2 249.7h1v1h-1zM96.2 249.7h1v1h-1zM99.2 249.7h1v1h-1zM76.2 250.7h1v1h-1zM82.2 250.7h1v1h-1zM86.2 250.7h1v1h-1zM97.2 250.7h1v1h-1z" fill="#000" fill-opacity="0.288"/><path d="M121.2 238.7h1v1h-1zM110.2 239.7h1v1h-1zM113.2 239.7h1v1h-1zM116.2 239.7h1v1h-1zM125.2 239.7h1v1h-1zM110.2 240.7h1v1h-1zM115.2 240.7h1v1h-1zM119.2 240.7h1v1h-1zM97.2 241.7h1v1h-1zM121.2 241.7h1v1h-1zM94.2 242.7h1v1h-1zM117.2 242.7h1v1h-1zM119.2 242.7h1v1h-1zM121.2 242.7h1v1h-1zM89.2 243.7h1v1h-1zM116.2 243.7h1v1h-1zM118.2 243.7h1v1h-1zM115.2 244.7h1v1h-1zM116.2 244.7h1v1h-1zM113.2 245.7h1v1h-1zM83.2 248.7h1v1h-1zM98.2 248.7h1v1h-1zM87.2 249.7h1v1h-1z" fill="#000" fill-opacity="0.345"/><path d="M115.2 239.7h1v1h-1zM117.2 239.7h1v1h-1zM97.2 240.7h1v1h-1zM102.2 240.7h1v1h-1zM104.2 240.7h1v1h-1zM107.2 240.7h1v1h-1zM109.2 240.7h1v1h-1zM111.2 240.7h1v1h-1zM116.2 241.7h1v1h-1zM116.2 242.7h1v1h-1zM88.2 244.7h1v1h-1zM86.2 245.7h1v1h-1zM111.2 245.7h1v1h-1zM112.2 245.7h1v1h-1zM84.2 246.7h1v1h-1zM108.2 246.7h1v1h-1zM85.2 247.7h1v1h-1zM105.2 247.7h1v1h-1zM85.2 248.7h1v1h-1zM92.2 248.7h1v1h-1zM95.2 248.7h1v1h-1zM99.2 248.7h1v1h-1zM100.2 248.7h1v1h-1zM89.2 249.7h1v1h-1z" fill="#000" fill-opacity="0.403"/><path d="M105.2 240.7h1v1h-1zM106.2 240.7h1v1h-1zM108.2 240.7h1v1h-1zM117.2 240.7h1v1h-1zM91.2 242.7h1v1h-1zM115.2 242.7h1v1h-1zM91.2 243.7h1v1h-1zM87.2 245.7h1v1h-1zM110.2 246.7h1v1h-1zM87.2 247.7h1v1h-1zM88.2 247.7h1v1h-1zM103.2 247.7h1v1h-1zM88.2 248.7h1v1h-1zM90.2 248.7h1v1h-1zM91.2 248.7h1v1h-1zM93.2 248.7h1v1h-1zM94.2 248.7h1v1h-1z" fill="#000" fill-opacity="0.460"/><path d="M103.2 240.7h1v1h-1zM114.2 240.7h1v1h-1zM98.2 241.7h1v1h-1zM99.2 241.7h1v1h-1zM112.2 241.7h1v1h-1zM115.2 241.7h1v1h-1zM92.2 242.7h1v1h-1zM90.2 243.7h1v1h-1zM114.2 243.7h1v1h-1zM115.2 243.7h1v1h-1zM114.2 244.7h1v1h-1zM110.2 245.7h1v1h-1zM87.2 246.7h1v1h-1zM89.2 247.7h1v1h-1zM90.2 247.7h1v1h-1zM97.2 247.7h1v1h-1zM100.2 247.7h1v1h-1zM101.2 247.7h1v1h-1zM87.2 248.7h1v1h-1z" fill="#000" fill-opacity="0.518"/><path d="M113.2 240.7h1v1h-1zM101.2 241.7h1v1h-1zM113.2 241.7h1v1h-1zM114.2 241.7h1v1h-1zM95.2 242.7h1v1h-1zM113.2 242.7h1v1h-1zM89.2 244.7h1v1h-1zM112.2 244.7h1v1h-1zM113.2 244.7h1v1h-1zM88.2 245.7h1v1h-1zM109.2 245.7h1v1h-1zM89.2 246.7h1v1h-1zM107.2 246.7h1v1h-1zM86.2 247.7h1v1h-1zM91.2 247.7h1v1h-1zM98.2 247.7h1v1h-1zM99.2 247.7h1v1h-1z" fill="#000" fill-opacity="0.575"/><path d="M100.2 241.7h1v1h-1zM105.2 241.7h1v1h-1zM110.2 241.7h1v1h-1zM96.2 242.7h1v1h-1zM97.2 242.7h1v1h-1zM92.2 243.7h1v1h-1zM93.2 243.7h1v1h-1zM90.2 244.7h1v1h-1zM91.2 244.7h1v1h-1zM90.2 245.7h1v1h-1zM88.2 246.7h1v1h-1zM106.2 246.7h1v1h-1zM92.2 247.7h1v1h-1zM94.2 247.7h1v1h-1zM96.2 247.7h1v1h-1z" fill="#000" fill-opacity="0.633"/><path d="M103.2 241.7h1v1h-1zM104.2 241.7h1v1h-1zM106.2 241.7h1v1h-1zM108.2 241.7h1v1h-1zM109.2 241.7h1v1h-1zM111.2 241.7h1v1h-1zM114.2 242.7h1v1h-1zM94.2 243.7h1v1h-1zM113.2 243.7h1v1h-1zM111.2 244.7h1v1h-1zM104.2 246.7h1v1h-1zM105.2 246.7h1v1h-1zM93.2 247.7h1v1h-1zM95.2 247.7h1v1h-1z" fill="#000" fill-opacity="0.690"/><path d="M102.2 241.7h1v1h-1zM107.2 241.7h1v1h-1zM98.2 242.7h1v1h-1zM112.2 243.7h1v1h-1zM92.2 244.7h1v1h-1zM89.2 245.7h1v1h-1zM106.2 245.7h1v1h-1zM90.2 246.7h1v1h-1zM91.2 246.7h1v1h-1zM103.2 246.7h1v1h-1z" fill="#000" fill-opacity="0.748"/><path d="M99.2 242.7h1v1h-1zM100.2 242.7h1v1h-1zM110.2 242.7h1v1h-1zM112.2 242.7h1v1h-1zM95.2 243.7h1v1h-1zM109.2 244.7h1v1h-1zM91.2 245.7h1v1h-1zM107.2 245.7h1v1h-1zM108.2 245.7h1v1h-1zM92.2 246.7h1v1h-1zM93.2 246.7h1v1h-1zM102.2 246.7h1v1h-1z" fill="#000" fill-opacity="0.805"/><path d="M101.2 242.7h1v1h-1zM109.2 242.7h1v1h-1zM111.2 242.7h1v1h-1zM111.2 243.7h1v1h-1zM93.2 244.7h1v1h-1zM110.2 244.7h1v1h-1z" fill="#000" fill-opacity="0.863"/><path d="M102.2 242.7h1v1h-1zM103.2 242.7h1v1h-1zM104.2 242.7h1v1h-1zM105.2 242.7h1v1h-1zM106.2 242.7h1v1h-1zM107.2 242.7h1v1h-1zM108.2 242.7h1v1h-1zM96.2 243.7h1v1h-1zM97.2 243.7h1v1h-1zM98.2 243.7h1v1h-1zM99.2 243.7h1v1h-1zM100.2 243.7h1v1h-1zM101.2 243.7h1v1h-1zM102.2 243.7h1v1h-1zM103.2 243.7h1v1h-1zM104.2 243.7h1v1h-1zM105.2 243.7h1v1h-1zM106.2 243.7h1v1h-1zM107.2 243.7h1v1h-1zM108.2 243.7h1v1h-1zM109.2 243.7h1v1h-1zM110.2 243.7h1v1h-1zM94.2 244.7h1v1h-1zM95.2 244.7h1v1h-1zM96.2 244.7h1v1h-1zM97.2 244.7h1v1h-1zM98.2 244.7h1v1h-1zM99.2 244.7h1v1h-1zM100.2 244.7h1v1h-1zM101.2 244.7h1v1h-1zM102.2 244.7h1v1h-1zM103.2 244.7h1v1h-1zM104.2 244.7h1v1h-1zM105.2 244.7h1v1h-1zM106.2 244.7h1v1h-1zM107.2 244.7h1v1h-1zM108.2 244.7h1v1h-1zM92.2 245.7h1v1h-1zM93.2 245.7h1v1h-1zM94.2 245.7h1v1h-1zM95.2 245.7h1v1h-1zM96.2 245.7h1v1h-1zM97.2 245.7h1v1h-1zM98.2 245.7h1v1h-1zM99.2 245.7h1v1h-1zM100.2 245.7h1v1h-1zM101.2 245.7h1v1h-1zM102.2 245.7h1v1h-1zM103.2 245.7h1v1h-1zM104.2 245.7h1v1h-1zM105.2 245.7h1v1h-1zM94.2 246.7h1v1h-1zM95.2 246.7h1v1h-1zM96.2 246.7h1v1h-1zM97.2 246.7h1v1h-1zM98.2 246.7h1v1h-1zM99.2 246.7h1v1h-1zM100.2 246.7h1v1h-1zM101.2 246.7h1v1h-1z" fill="#000" fill-opacity="0.920"/></g><g fill="#2e4a85"><rect x="94.5" y="253.1" width="1.4" height="1.4"/><rect x="84.0" y="253.4" width="1.4" height="1.4"/><rect x="92.9" y="248.7" width="1.4" height="1.4"/><rect x="65.7" y="263.1" width="1.4" height="1.4"/><rect x="95.4" y="250.8" width="1.4" height="1.4"/><rect x="98.5" y="256.6" width="1.4" height="1.4"/><rect x="93.4" y="255.5" width="1.4" height="1.4"/><rect x="82.4" y="256.9" width="1.4" height="1.4"/><rect x="84.2" y="261.6" width="1.4" height="1.4"/><rect x="90.7" y="253.4" width="1.4" height="1.4"/><rect x="96.9" y="251.6" width="1.4" height="1.4"/><rect x="91.1" y="254.4" width="1.4" height="1.4"/><rect x="96.0" y="250.6" width="1.4" height="1.4"/><rect x="96.1" y="248.2" width="1.4" height="1.4"/><rect x="99.2" y="256.2" width="1.4" height="1.4"/><rect x="88.1" y="262.4" width="1.4" height="1.4"/><rect x="90.5" y="248.2" width="1.4" height="1.4"/><rect x="96.5" y="256.7" width="1.4" height="1.4"/><rect x="91.3" y="247.8" width="1.4" height="1.4"/><rect x="82.3" y="251.2" width="1.4" height="1.4"/><rect x="78.6" y="257.8" width="1.4" height="1.4"/><rect x="89.1" y="254.8" width="1.4" height="1.4"/><rect x="86.6" y="250.6" width="1.4" height="1.4"/><rect x="91.5" y="251.3" width="1.4" height="1.4"/><rect x="87.4" y="249.1" width="1.4" height="1.4"/><rect x="96.9" y="253.1" width="1.4" height="1.4"/><rect x="95.4" y="249.8" width="1.4" height="1.4"/><rect x="95.9" y="248.8" width="1.4" height="1.4"/><rect x="96.5" y="251.6" width="1.4" height="1.4"/><rect x="92.1" y="247.7" width="1.4" height="1.4"/><rect x="92.7" y="260.9" width="1.4" height="1.4"/><rect x="90.2" y="251.5" width="1.4" height="1.4"/><rect x="92.3" y="255.7" width="1.4" height="1.4"/><rect x="92.7" y="254.0" width="1.4" height="1.4"/><rect x="87.5" y="251.0" width="1.4" height="1.4"/><rect x="98.0" y="249.6" width="1.4" height="1.4"/><rect x="95.3" y="251.7" width="1.4" height="1.4"/><rect x="93.3" y="256.8" width="1.4" height="1.4"/><rect x="88.0" y="254.7" width="1.4" height="1.4"/><rect x="84.0" y="259.6" width="1.4" height="1.4"/><rect x="85.8" y="258.5" width="1.4" height="1.4"/><rect x="95.7" y="249.6" width="1.4" height="1.4"/><rect x="92.8" y="248.9" width="1.4" height="1.4"/><rect x="85.4" y="251.5" width="1.4" height="1.4"/><rect x="83.2" y="251.1" width="1.4" height="1.4"/><rect x="87.2" y="257.6" width="1.4" height="1.4"/><rect x="91.3" y="249.6" width="1.4" height="1.4"/><rect x="67.3" y="263.9" width="1.4" height="1.4"/><rect x="59.4" y="263.5" width="1.4" height="1.4"/><rect x="70.4" y="265.0" width="1.4" height="1.4"/><rect x="92.0" y="247.7" width="1.4" height="1.4"/><rect x="94.4" y="253.2" width="1.4" height="1.4"/><rect x="91.6" y="251.4" width="1.4" height="1.4"/><rect x="75.2" y="259.9" width="1.4" height="1.4"/><rect x="96.3" y="254.9" width="1.4" height="1.4"/><rect x="93.4" y="247.7" width="1.4" height="1.4"/><rect x="77.6" y="250.8" width="1.4" height="1.4"/><rect x="70.9" y="258.9" width="1.4" height="1.4"/><rect x="91.7" y="253.0" width="1.4" height="1.4"/><rect x="90.5" y="247.8" width="1.4" height="1.4"/><rect x="95.2" y="249.9" width="1.4" height="1.4"/><rect x="95.5" y="251.6" width="1.4" height="1.4"/><rect x="83.3" y="252.2" width="1.4" height="1.4"/><rect x="94.9" y="250.7" width="1.4" height="1.4"/><rect x="60.9" y="264.5" width="1.4" height="1.4"/><rect x="95.8" y="254.2" width="1.4" height="1.4"/><rect x="99.4" y="251.0" width="1.4" height="1.4"/><rect x="73.5" y="252.8" width="1.4" height="1.4"/><rect x="79.3" y="255.7" width="1.4" height="1.4"/><rect x="63.1" y="253.8" width="1.4" height="1.4"/><rect x="85.0" y="254.4" width="1.4" height="1.4"/><rect x="89.3" y="252.9" width="1.4" height="1.4"/><rect x="89.2" y="253.8" width="1.4" height="1.4"/><rect x="72.1" y="257.0" width="1.4" height="1.4"/><rect x="73.8" y="255.4" width="1.4" height="1.4"/><rect x="78.5" y="260.4" width="1.4" height="1.4"/><rect x="75.6" y="260.6" width="1.4" height="1.4"/><rect x="91.6" y="249.1" width="1.4" height="1.4"/><rect x="83.6" y="257.1" width="1.4" height="1.4"/><rect x="88.9" y="257.4" width="1.4" height="1.4"/><rect x="71.2" y="253.3" width="1.4" height="1.4"/><rect x="89.8" y="256.1" width="1.4" height="1.4"/><rect x="81.2" y="258.7" width="1.4" height="1.4"/><rect x="98.1" y="252.8" width="1.4" height="1.4"/><rect x="91.4" y="251.2" width="1.4" height="1.4"/><rect x="85.4" y="249.3" width="1.4" height="1.4"/><rect x="71.1" y="257.9" width="1.4" height="1.4"/><rect x="88.9" y="254.4" width="1.4" height="1.4"/><rect x="82.5" y="257.9" width="1.4" height="1.4"/><rect x="88.3" y="259.3" width="1.4" height="1.4"/><rect x="63.8" y="258.3" width="1.4" height="1.4"/><rect x="91.4" y="253.3" width="1.4" height="1.4"/><rect x="90.9" y="247.8" width="1.4" height="1.4"/><rect x="88.8" y="252.6" width="1.4" height="1.4"/><rect x="91.3" y="252.2" width="1.4" height="1.4"/><rect x="95.4" y="255.0" width="1.4" height="1.4"/><rect x="95.1" y="251.1" width="1.4" height="1.4"/><rect x="80.0" y="261.7" width="1.4" height="1.4"/><rect x="75.5" y="249.9" width="1.4" height="1.4"/><rect x="88.9" y="256.0" width="1.4" height="1.4"/><rect x="83.5" y="254.9" width="1.4" height="1.4"/><rect x="77.2" y="256.2" width="1.4" height="1.4"/><rect x="96.3" y="258.1" width="1.4" height="1.4"/><rect x="93.5" y="258.3" width="1.4" height="1.4"/><rect x="82.7" y="260.3" width="1.4" height="1.4"/><rect x="82.8" y="248.3" width="1.4" height="1.4"/><rect x="82.7" y="259.9" width="1.4" height="1.4"/><rect x="89.1" y="256.2" width="1.4" height="1.4"/><rect x="94.0" y="253.6" width="1.4" height="1.4"/><rect x="78.3" y="255.8" width="1.4" height="1.4"/><rect x="61.2" y="255.1" width="1.4" height="1.4"/><rect x="73.3" y="249.7" width="1.4" height="1.4"/><rect x="80.1" y="255.9" width="1.4" height="1.4"/><rect x="91.7" y="254.6" width="1.4" height="1.4"/><rect x="86.3" y="256.7" width="1.4" height="1.4"/><rect x="95.3" y="253.6" width="1.4" height="1.4"/><rect x="91.9" y="254.4" width="1.4" height="1.4"/><rect x="84.4" y="252.1" width="1.4" height="1.4"/><rect x="93.6" y="250.0" width="1.4" height="1.4"/><rect x="90.2" y="264.4" width="1.4" height="1.4"/><rect x="85.1" y="250.3" width="1.4" height="1.4"/><rect x="86.2" y="260.2" width="1.4" height="1.4"/><rect x="78.1" y="252.7" width="1.4" height="1.4"/><rect x="86.4" y="249.3" width="1.4" height="1.4"/><rect x="92.5" y="256.3" width="1.4" height="1.4"/><rect x="91.6" y="254.2" width="1.4" height="1.4"/><rect x="73.5" y="252.5" width="1.4" height="1.4"/><rect x="79.2" y="253.1" width="1.4" height="1.4"/><rect x="66.6" y="257.4" width="1.4" height="1.4"/><rect x="93.8" y="257.1" width="1.4" height="1.4"/><rect x="66.2" y="264.5" width="1.4" height="1.4"/><rect x="62.6" y="255.5" width="1.4" height="1.4"/><rect x="82.7" y="255.2" width="1.4" height="1.4"/><rect x="80.3" y="250.2" width="1.4" height="1.4"/><rect x="86.3" y="254.4" width="1.4" height="1.4"/><rect x="74.7" y="257.2" width="1.4" height="1.4"/><rect x="92.4" y="248.9" width="1.4" height="1.4"/><rect x="80.6" y="256.3" width="1.4" height="1.4"/><rect x="92.6" y="260.2" width="1.4" height="1.4"/><rect x="72.1" y="254.1" width="1.4" height="1.4"/><rect x="96.5" y="247.5" width="1.4" height="1.4"/><rect x="98.0" y="248.0" width="1.4" height="1.4"/><rect x="93.8" y="253.6" width="1.4" height="1.4"/><rect x="72.8" y="255.0" width="1.4" height="1.4"/><rect x="71.5" y="259.3" width="1.4" height="1.4"/><rect x="78.7" y="255.1" width="1.4" height="1.4"/><rect x="79.5" y="253.7" width="1.4" height="1.4"/><rect x="96.3" y="253.8" width="1.4" height="1.4"/><rect x="93.5" y="247.6" width="1.4" height="1.4"/><rect x="95.7" y="247.5" width="1.4" height="1.4"/><rect x="109.9" y="237.2" width="1.4" height="1.4"/><rect x="114.4" y="228.7" width="1.4" height="1.4"/><rect x="121.0" y="232.6" width="1.4" height="1.4"/><rect x="104.0" y="234.0" width="1.4" height="1.4"/><rect x="123.3" y="230.0" width="1.4" height="1.4"/><rect x="109.0" y="241.6" width="1.4" height="1.4"/><rect x="117.7" y="236.0" width="1.4" height="1.4"/><rect x="118.4" y="231.9" width="1.4" height="1.4"/><rect x="118.4" y="229.0" width="1.4" height="1.4"/><rect x="104.3" y="237.7" width="1.4" height="1.4"/><rect x="125.1" y="228.8" width="1.4" height="1.4"/><rect x="123.4" y="229.5" width="1.4" height="1.4"/><rect x="121.2" y="237.6" width="1.4" height="1.4"/><rect x="112.5" y="241.6" width="1.4" height="1.4"/><rect x="114.2" y="237.2" width="1.4" height="1.4"/><rect x="116.3" y="240.0" width="1.4" height="1.4"/><rect x="118.0" y="239.1" width="1.4" height="1.4"/><rect x="115.6" y="241.6" width="1.4" height="1.4"/><rect x="103.7" y="231.9" width="1.4" height="1.4"/><rect x="111.2" y="241.0" width="1.4" height="1.4"/><rect x="106.6" y="238.7" width="1.4" height="1.4"/><rect x="116.2" y="240.2" width="1.4" height="1.4"/><rect x="107.7" y="237.9" width="1.4" height="1.4"/><rect x="128.0" y="226.3" width="1.4" height="1.4"/><rect x="131.7" y="231.9" width="1.4" height="1.4"/><rect x="128.3" y="230.8" width="1.4" height="1.4"/><rect x="103.0" y="237.7" width="1.4" height="1.4"/><rect x="117.1" y="237.1" width="1.4" height="1.4"/><rect x="126.5" y="231.3" width="1.4" height="1.4"/><rect x="111.6" y="232.1" width="1.4" height="1.4"/><rect x="138.8" y="225.4" width="1.4" height="1.4"/><rect x="114.4" y="241.6" width="1.4" height="1.4"/><rect x="110.3" y="241.6" width="1.4" height="1.4"/><rect x="107.2" y="233.6" width="1.4" height="1.4"/><rect x="119.0" y="235.7" width="1.4" height="1.4"/><rect x="108.4" y="240.1" width="1.4" height="1.4"/><rect x="111.3" y="237.0" width="1.4" height="1.4"/><rect x="135.6" y="226.8" width="1.4" height="1.4"/><rect x="108.5" y="241.6" width="1.4" height="1.4"/><rect x="120.4" y="237.3" width="1.4" height="1.4"/><rect x="118.5" y="234.7" width="1.4" height="1.4"/><rect x="112.7" y="232.7" width="1.4" height="1.4"/><rect x="106.9" y="239.8" width="1.4" height="1.4"/><rect x="114.6" y="232.9" width="1.4" height="1.4"/><rect x="105.3" y="234.9" width="1.4" height="1.4"/><rect x="110.9" y="241.0" width="1.4" height="1.4"/><rect x="115.6" y="238.6" width="1.4" height="1.4"/><rect x="105.7" y="240.1" width="1.4" height="1.4"/><rect x="107.3" y="232.6" width="1.4" height="1.4"/><rect x="104.1" y="239.7" width="1.4" height="1.4"/><rect x="115.9" y="230.5" width="1.4" height="1.4"/><rect x="116.9" y="241.6" width="1.4" height="1.4"/><rect x="122.6" y="232.3" width="1.4" height="1.4"/><rect x="114.5" y="227.5" width="1.4" height="1.4"/><rect x="125.7" y="232.9" width="1.4" height="1.4"/><rect x="118.4" y="241.0" width="1.4" height="1.4"/><rect x="105.0" y="230.8" width="1.4" height="1.4"/><rect x="108.0" y="225.3" width="1.4" height="1.4"/><rect x="114.6" y="238.9" width="1.4" height="1.4"/><rect x="145.3" y="220.8" width="1.4" height="1.4"/><rect x="129.7" y="231.7" width="1.4" height="1.4"/><rect x="103.9" y="241.6" width="1.4" height="1.4"/><rect x="113.0" y="234.6" width="1.4" height="1.4"/><rect x="114.1" y="233.3" width="1.4" height="1.4"/><rect x="124.8" y="231.4" width="1.4" height="1.4"/><rect x="139.0" y="229.9" width="1.4" height="1.4"/><rect x="108.1" y="241.6" width="1.4" height="1.4"/><rect x="136.8" y="227.4" width="1.4" height="1.4"/><rect x="107.1" y="239.7" width="1.4" height="1.4"/><rect x="112.5" y="240.5" width="1.4" height="1.4"/><rect x="120.7" y="236.3" width="1.4" height="1.4"/><rect x="109.0" y="241.6" width="1.4" height="1.4"/><rect x="108.7" y="237.9" width="1.4" height="1.4"/><rect x="111.0" y="236.3" width="1.4" height="1.4"/><rect x="105.4" y="241.6" width="1.4" height="1.4"/><rect x="122.3" y="231.3" width="1.4" height="1.4"/><rect x="121.2" y="234.4" width="1.4" height="1.4"/><rect x="109.0" y="241.1" width="1.4" height="1.4"/><rect x="105.0" y="241.6" width="1.4" height="1.4"/><rect x="140.7" y="227.9" width="1.4" height="1.4"/></g><g fill="#b0002e"><rect x="98.5" y="239.5" width="1.4" height="1.4"/><rect x="92.9" y="236.4" width="1.4" height="1.4"/><rect x="91.0" y="237.9" width="1.4" height="1.4"/><rect x="95.7" y="239.4" width="1.4" height="1.4"/><rect x="101.2" y="234.8" width="1.4" height="1.4"/><rect x="90.4" y="230.7" width="1.4" height="1.4"/><rect x="98.9" y="222.4" width="1.4" height="1.4"/><rect x="93.1" y="239.2" width="1.4" height="1.4"/><rect x="99.5" y="230.8" width="1.4" height="1.4"/><rect x="100.5" y="229.5" width="1.4" height="1.4"/><rect x="101.2" y="239.9" width="1.4" height="1.4"/><rect x="93.8" y="223.7" width="1.4" height="1.4"/><rect x="99.2" y="238.4" width="1.4" height="1.4"/><rect x="93.2" y="234.6" width="1.4" height="1.4"/><rect x="93.5" y="232.5" width="1.4" height="1.4"/><rect x="95.0" y="233.5" width="1.4" height="1.4"/><rect x="91.7" y="236.8" width="1.4" height="1.4"/><rect x="94.2" y="237.1" width="1.4" height="1.4"/><rect x="98.4" y="237.5" width="1.4" height="1.4"/><rect x="98.0" y="238.6" width="1.4" height="1.4"/><rect x="98.4" y="233.4" width="1.4" height="1.4"/><rect x="99.8" y="235.6" width="1.4" height="1.4"/><rect x="97.4" y="239.6" width="1.4" height="1.4"/><rect x="98.9" y="227.2" width="1.4" height="1.4"/><rect x="96.1" y="233.2" width="1.4" height="1.4"/><rect x="100.6" y="236.4" width="1.4" height="1.4"/><rect x="100.3" y="234.1" width="1.4" height="1.4"/><rect x="98.5" y="238.6" width="1.4" height="1.4"/><rect x="92.1" y="233.9" width="1.4" height="1.4"/><rect x="99.2" y="236.7" width="1.4" height="1.4"/><rect x="96.4" y="238.3" width="1.4" height="1.4"/><rect x="94.2" y="223.4" width="1.4" height="1.4"/><rect x="97.3" y="237.5" width="1.4" height="1.4"/><rect x="97.9" y="239.3" width="1.4" height="1.4"/><rect x="98.3" y="236.8" width="1.4" height="1.4"/><rect x="98.5" y="237.7" width="1.4" height="1.4"/><rect x="110.0" y="251.8" width="1.4" height="1.4"/><rect x="105.2" y="248.4" width="1.4" height="1.4"/><rect x="108.8" y="255.8" width="1.4" height="1.4"/><rect x="103.8" y="251.6" width="1.4" height="1.4"/><rect x="112.4" y="253.8" width="1.4" height="1.4"/><rect x="109.6" y="249.4" width="1.4" height="1.4"/><rect x="101.7" y="258.6" width="1.4" height="1.4"/><rect x="106.1" y="249.1" width="1.4" height="1.4"/><rect x="108.8" y="248.9" width="1.4" height="1.4"/><rect x="103.8" y="255.3" width="1.4" height="1.4"/><rect x="116.6" y="252.7" width="1.4" height="1.4"/><rect x="113.1" y="247.8" width="1.4" height="1.4"/><rect x="106.5" y="259.8" width="1.4" height="1.4"/><rect x="104.8" y="260.1" width="1.4" height="1.4"/><rect x="104.2" y="248.8" width="1.4" height="1.4"/><rect x="103.8" y="252.9" width="1.4" height="1.4"/><rect x="101.3" y="257.9" width="1.4" height="1.4"/><rect x="109.4" y="248.5" width="1.4" height="1.4"/><rect x="101.8" y="249.1" width="1.4" height="1.4"/><rect x="105.1" y="258.2" width="1.4" height="1.4"/><rect x="112.6" y="256.3" width="1.4" height="1.4"/><rect x="117.3" y="260.9" width="1.4" height="1.4"/><rect x="117.4" y="258.1" width="1.4" height="1.4"/><rect x="105.2" y="252.1" width="1.4" height="1.4"/><rect x="105.1" y="253.7" width="1.4" height="1.4"/><rect x="114.9" y="257.5" width="1.4" height="1.4"/><rect x="108.8" y="255.3" width="1.4" height="1.4"/><rect x="104.1" y="248.9" width="1.4" height="1.4"/><rect x="111.6" y="248.1" width="1.4" height="1.4"/><rect x="107.4" y="248.2" width="1.4" height="1.4"/><rect x="106.9" y="254.2" width="1.4" height="1.4"/><rect x="112.6" y="249.3" width="1.4" height="1.4"/><rect x="112.4" y="250.6" width="1.4" height="1.4"/><rect x="103.3" y="253.2" width="1.4" height="1.4"/><rect x="111.4" y="256.7" width="1.4" height="1.4"/><rect x="105.8" y="258.6" width="1.4" height="1.4"/><rect x="101.3" y="250.2" width="1.4" height="1.4"/><rect x="107.5" y="248.0" width="1.4" height="1.4"/><rect x="100.5" y="219.4" width="1.4" height="1.4"/><rect x="98.6" y="226.3" width="1.4" height="1.4"/><rect x="95.9" y="229.4" width="1.4" height="1.4"/><rect x="99.2" y="230.7" width="1.4" height="1.4"/><rect x="84.7" y="238.2" width="1.4" height="1.4"/><rect x="88.0" y="235.7" width="1.4" height="1.4"/><rect x="109.1" y="260.6" width="1.4" height="1.4"/><rect x="111.1" y="255.0" width="1.4" height="1.4"/><rect x="120.4" y="252.5" width="1.4" height="1.4"/><rect x="126.3" y="256.3" width="1.4" height="1.4"/><rect x="99.9" y="264.4" width="1.4" height="1.4"/><rect x="99.2" y="262.5" width="1.4" height="1.4"/></g><rect x="36.20" y="182.70" width="132.20" height="124.90" fill="none" stroke="#231f20" stroke-width="1.1"/><line x1="36.20" y1="182.70" x2="36.20" y2="307.60" stroke="#231f20" stroke-width="1.3"/><line x1="36.20" y1="307.60" x2="168.40" y2="307.60" stroke="#231f20" stroke-width="1.3"/><text x="33.20" y="184.35" font-size="8.4" text-anchor="end">10</text><text x="33.20" y="215.57" font-size="8.4" text-anchor="end">5</text><text x="33.20" y="246.80" font-size="8.4" text-anchor="end">0</text><text x="33.20" y="278.02" font-size="8.4" text-anchor="end">-5</text><text x="33.20" y="309.25" font-size="8.4" text-anchor="end">-10</text><text x="36.20" y="316.90" font-size="8.4" text-anchor="middle">-10</text><text x="66.00" y="316.90" font-size="8.4" text-anchor="middle">-5</text><text x="100.80" y="316.90" font-size="8.4" text-anchor="middle">0</text><text x="134.50" y="316.90" font-size="8.4" text-anchor="middle">5</text><text x="167.80" y="316.90" font-size="8.4" text-anchor="middle">10</text><text x="34.60" y="329.90" font-size="10.5" textLength="128.60" lengthAdjust="spacingAndGlyphs">Expression ratio normal PC / MBC (log</text><text x="163.40" y="332.20" font-size="7.0">2</text><text x="166.90" y="329.90" font-size="10.5">)</text><text x="16.60" y="320.70" font-size="10.5" textLength="145.50" lengthAdjust="spacingAndGlyphs" transform="rotate(-90 16.60 320.70)">Expression ratio WM PC-like / MBC-like (log</text><text x="18.90" y="175.20" font-size="7.0" transform="rotate(-90 18.90 175.20)">2</text><text x="16.60" y="171.40" font-size="10.5" transform="rotate(-90 16.60 171.40)">)</text><rect x="37.00" y="164.80" width="8.90" height="8.50" fill="#2e4a80"/><text x="49.30" y="167.00" font-size="8.2" textLength="49.00" lengthAdjust="spacingAndGlyphs">Concordant in</text><text x="49.30" y="175.60" font-size="8.2" textLength="54.70" lengthAdjust="spacingAndGlyphs">WM and normal</text><rect x="116.20" y="164.60" width="9.60" height="8.90" fill="#a5002d"/><text x="128.80" y="171.00" font-size="8.2" textLength="42.40" lengthAdjust="spacingAndGlyphs">WM-specific</text><text x="43.80" y="193.20" font-size="6.5" textLength="26.50" lengthAdjust="spacingAndGlyphs">up in PC-</text><text x="43.80" y="201.00" font-size="6.5" textLength="23.70" lengthAdjust="spacingAndGlyphs">like WM</text><text x="115.10" y="291.40" font-size="6.5" textLength="33.00" lengthAdjust="spacingAndGlyphs">up in MBC-</text><text x="115.10" y="298.80" font-size="6.5" textLength="24.20" lengthAdjust="spacingAndGlyphs">like WM</text><text x="94.40" y="216.00" font-size="6.3" text-anchor="end">HIST1H2AC</text><line x1="95.30" y1="216.50" x2="101.00" y2="232.60" stroke="#6d6e70" stroke-width="0.45"/><text x="90.10" y="222.10" font-size="6.3" text-anchor="end">HIST1H2BK</text><line x1="90.90" y1="222.30" x2="100.30" y2="232.80" stroke="#6d6e70" stroke-width="0.45"/><text x="87.70" y="228.40" font-size="6.3" text-anchor="end">H2BFS</text><line x1="88.40" y1="228.20" x2="99.30" y2="232.60" stroke="#6d6e70" stroke-width="0.45"/><text x="83.80" y="234.30" font-size="6.3" text-anchor="end">HIST1H4I</text><line x1="84.60" y1="232.20" x2="96.50" y2="232.60" stroke="#6d6e70" stroke-width="0.45"/><defs><linearGradient id="fg" x1="0" y1="0" x2="0" y2="1"><stop offset="0" stop-color="#111"/><stop offset="0.45" stop-color="#555"/><stop offset="1" stop-color="#e6e6e6"/></linearGradient><linearGradient id="lr" x1="0" y1="0" x2="1" y2="0"><stop offset="0" stop-color="#16245f"/><stop offset="0.5" stop-color="#cfcfcf"/><stop offset="0.55" stop-color="#cfd3ea"/><stop offset="1" stop-color="#d3202f"/></linearGradient><linearGradient id="cyl" x1="0" y1="0" x2="0" y2="1"><stop offset="0" stop-color="#fff" stop-opacity="0"/><stop offset="0.4" stop-color="#fff" stop-opacity="0.05"/><stop offset="0.88" stop-color="#fff" stop-opacity="0.42"/><stop offset="0.93" stop-color="#000" stop-opacity="0.3"/><stop offset="1" stop-color="#000" stop-opacity="0.4"/></linearGradient></defs><text x="174.50" y="257.50" font-size="8.2" textLength="38.10" lengthAdjust="spacingAndGlyphs">Frequency</text><rect x="174.20" y="263.50" width="8.10" height="39.80" fill="url(#fg)"/><text x="184.00" y="268.00" font-size="8.4">16</text><text x="184.00" y="277.30" font-size="8.4">8</text><text x="184.00" y="286.70" font-size="8.4">4</text><text x="184.00" y="296.00" font-size="8.4">2</text><text x="184.00" y="305.20" font-size="8.4">1</text><text x="252.30" y="181.30" font-size="8.6" textLength="60.70" lengthAdjust="spacingAndGlyphs">Histone cluster 1</text><text x="284.00" y="191.00" font-size="7.6" text-anchor="middle" textLength="5.60" lengthAdjust="spacingAndGlyphs">V</text><text x="244.20" y="199.80" font-size="8.6" text-anchor="end" textLength="16.30" lengthAdjust="spacingAndGlyphs">chr6</text><clipPath id="armL"><rect x="246.2" y="192.4" width="77.6" height="12.900000000000006" rx="6.450000000000003" ry="6.450000000000003"/></clipPath><clipPath id="armR"><rect x="329.6" y="192.4" width="146.0" height="12.900000000000006" rx="6.450000000000003" ry="6.450000000000003"/></clipPath><g clip-path="url(#armL)"><rect x="240" y="192.4" width="240" height="12.900000000000006" fill="#fff"/><rect x="254.6" y="192.4" width="4.0" height="12.900000000000006" fill="#6f6f6f"/><rect x="259.8" y="192.4" width="4.1" height="12.900000000000006" fill="#a2a2a2"/><rect x="266.0" y="192.4" width="7.2" height="12.900000000000006" fill="#3c3c3c"/><rect x="276.9" y="192.4" width="5.1" height="12.900000000000006" fill="#707070"/><rect x="283.4" y="192.4" width="1.4" height="12.900000000000006" fill="#b5b5b5"/><rect x="285.8" y="192.4" width="2.4" height="12.900000000000006" fill="#b5b5b5"/><rect x="295.2" y="192.4" width="4.0" height="12.900000000000006" fill="#b8b8b8"/><rect x="308.9" y="192.4" width="7.1" height="12.900000000000006" fill="#0a0a0a"/><rect x="317.7" y="192.4" width="6.1" height="12.900000000000006" fill="#0a0a0a"/><rect x="240" y="192.4" width="240" height="12.900000000000006" fill="url(#cyl)"/></g><g clip-path="url(#armR)"><rect x="240" y="192.4" width="240" height="12.900000000000006" fill="#fff"/><rect x="329.6" y="192.4" width="10.2" height="12.900000000000006" fill="#0a0a0a"/><rect x="344.6" y="192.4" width="6.4" height="12.900000000000006" fill="#8e8e8e"/><rect x="352.7" y="192.4" width="4.6" height="12.900000000000006" fill="#7e7e7e"/><rect x="365.0" y="192.4" width="8.1" height="12.900000000000006" fill="#0a0a0a"/><rect x="375.3" y="192.4" width="6.6" height="12.900000000000006" fill="#0a0a0a"/><rect x="394.3" y="192.4" width="4.8" height="12.900000000000006" fill="#4e4e4e"/><rect x="401.7" y="192.4" width="6.9" height="12.900000000000006" fill="#0a0a0a"/><rect x="412.9" y="192.4" width="6.3" height="12.900000000000006" fill="#3e3e3e"/><rect x="426.3" y="192.4" width="4.6" height="12.900000000000006" fill="#808080"/><rect x="435.6" y="192.4" width="4.8" height="12.900000000000006" fill="#2e2e2e"/><rect x="443.9" y="192.4" width="3.4" height="12.900000000000006" fill="#2e2e2e"/><rect x="452.0" y="192.4" width="3.7" height="12.900000000000006" fill="#858585"/><rect x="455.7" y="192.4" width="1.3" height="12.900000000000006" fill="#c8c8c8"/><rect x="463.9" y="192.4" width="3.5" height="12.900000000000006" fill="#707070"/><rect x="240" y="192.4" width="240" height="12.900000000000006" fill="url(#cyl)"/></g><rect x="246.2" y="192.4" width="77.6" height="12.900000000000006" rx="6.450000000000003" ry="6.450000000000003" fill="none" stroke="#555" stroke-width="0.8"/><rect x="329.6" y="192.4" width="146.0" height="12.900000000000006" rx="6.450000000000003" ry="6.450000000000003" fill="none" stroke="#555" stroke-width="0.8"/><path d="M323.3,193.3 C325.4,195.4 326.8,197.4 327.1,198.85 C326.8,200.3 325.4,202.3 323.3,204.4 Z" fill="#eeb0b0" stroke="#8a6a6a" stroke-width="0.5"/><path d="M330.9,193.3 C328.8,195.4 327.4,197.4 327.1,198.85 C327.4,200.3 328.8,202.3 330.9,204.4 Z" fill="#eeb0b0" stroke="#8a6a6a" stroke-width="0.5"/><g shape-rendering="crispEdges"><path d="M249.70 217.20h1.26v12.36h-1.26zM257.60 266.80h1.26v12.86h-1.26zM258.80 254.20h1.06v12.66h-1.06zM262.20 217.20h1.06v12.36h-1.06zM264.00 217.20h0.86v12.36h-0.86zM264.80 217.20h1.06v12.36h-1.06zM265.80 254.20h1.26v12.66h-1.26zM275.70 254.20h0.66v12.66h-0.66zM277.80 279.60h0.86v13.06h-0.86zM278.60 217.20h1.26v12.36h-1.26zM289.30 217.20h0.66v12.36h-0.66zM305.00 229.50h0.86v12.26h-0.86zM306.60 229.50h2.56v12.26h-2.56zM314.60 254.20h0.86v12.66h-0.86zM371.10 217.20h1.26v12.36h-1.26z" fill="#f2e2e3"/><path d="M249.70 229.50h1.26v12.26h-1.26zM250.90 229.50h1.26v12.26h-1.26zM252.10 266.80h0.66v12.86h-0.66zM252.70 229.50h0.66v12.26h-0.66zM253.30 241.70h1.26v12.56h-1.26zM253.30 254.20h1.26v12.66h-1.26zM258.80 279.60h1.06v13.06h-1.06zM260.80 241.70h0.86v12.56h-0.86zM260.80 279.60h0.86v13.06h-0.86zM263.20 254.20h0.86v12.66h-0.86zM264.00 229.50h0.86v12.26h-0.86zM264.00 241.70h0.86v12.56h-0.86zM264.80 241.70h1.06v12.56h-1.06zM264.80 254.20h1.06v12.66h-1.06zM265.80 241.70h1.26v12.56h-1.26zM269.40 279.60h0.66v13.06h-0.66zM270.00 279.60h1.26v13.06h-1.26zM271.20 229.50h1.06v12.26h-1.06zM276.30 266.80h1.56v12.86h-1.56zM282.80 254.20h2.06v12.66h-2.06zM292.10 229.50h1.06v12.26h-1.06zM292.10 241.70h1.06v12.56h-1.06zM293.10 241.70h1.26v12.56h-1.26zM294.30 266.80h0.66v12.86h-0.66zM298.40 254.20h1.56v12.66h-1.56zM299.90 254.20h1.26v12.66h-1.26zM303.40 266.80h0.66v12.86h-0.66zM305.00 266.80h0.86v12.86h-0.86zM306.60 254.20h2.56v12.66h-2.56zM306.60 279.60h2.56v13.06h-2.56zM320.90 266.80h1.06v12.86h-1.06z" fill="#e4aaa8"/><path d="M249.70 241.70h1.26v12.56h-1.26zM249.70 266.80h1.26v12.86h-1.26zM250.90 254.20h1.26v12.66h-1.26zM252.10 279.60h0.66v13.06h-0.66zM254.50 254.20h1.56v12.66h-1.56zM256.00 266.80h0.86v12.86h-0.86zM256.00 279.60h0.86v13.06h-0.86zM256.80 241.70h0.86v12.56h-0.86zM258.80 241.70h1.06v12.56h-1.06zM258.80 266.80h1.06v12.86h-1.06zM263.20 266.80h0.86v12.86h-0.86zM264.00 266.80h0.86v12.86h-0.86zM268.20 266.80h1.26v12.86h-1.26zM268.20 279.60h1.26v13.06h-1.26zM270.00 254.20h1.26v12.66h-1.26zM270.00 266.80h1.26v12.86h-1.26zM271.20 279.60h1.06v13.06h-1.06zM272.20 241.70h1.56v12.56h-1.56zM272.20 254.20h1.56v12.66h-1.56zM272.20 266.80h1.56v12.86h-1.56zM278.60 279.60h1.26v13.06h-1.26zM281.30 229.50h1.56v12.26h-1.56zM284.80 266.80h1.26v12.86h-1.26zM287.50 279.60h1.06v13.06h-1.06zM288.50 266.80h0.86v12.86h-0.86zM288.50 279.60h0.86v13.06h-0.86zM293.10 254.20h1.26v12.66h-1.26zM297.40 241.70h1.06v12.56h-1.06zM298.40 229.50h1.56v12.26h-1.56zM299.90 229.50h1.26v12.26h-1.26zM299.90 266.80h1.26v12.86h-1.26zM302.60 241.70h0.86v12.56h-0.86zM303.40 229.50h0.66v12.26h-0.66zM303.40 254.20h0.66v12.66h-0.66zM303.40 279.60h0.66v13.06h-0.66zM305.00 241.70h0.86v12.56h-0.86zM309.10 279.60h0.86v13.06h-0.86zM311.40 266.80h0.66v12.86h-0.66zM312.00 266.80h1.06v12.86h-1.06zM320.90 279.60h1.06v13.06h-1.06z" fill="#e6b0af"/><path d="M249.70 254.20h1.26v12.66h-1.26zM249.70 279.60h1.26v13.06h-1.26zM252.70 279.60h0.66v13.06h-0.66zM256.80 229.50h0.86v12.26h-0.86zM260.80 266.80h0.86v12.86h-0.86zM261.60 241.70h0.66v12.56h-0.66zM262.20 241.70h1.06v12.56h-1.06zM264.00 254.20h0.86v12.66h-0.86zM265.80 266.80h1.26v12.86h-1.26zM267.00 241.70h1.26v12.56h-1.26zM267.00 266.80h1.26v12.86h-1.26zM272.20 229.50h1.56v12.26h-1.56zM275.70 241.70h0.66v12.56h-0.66zM277.80 229.50h0.86v12.26h-0.86zM281.30 254.20h1.56v12.66h-1.56zM284.80 229.50h1.26v12.26h-1.26zM284.80 241.70h1.26v12.56h-1.26zM284.80 279.60h1.26v13.06h-1.26zM290.90 241.70h1.26v12.56h-1.26zM294.90 241.70h2.56v12.56h-2.56zM294.90 254.20h2.56v12.66h-2.56zM294.90 279.60h2.56v13.06h-2.56zM297.40 229.50h1.06v12.26h-1.06zM298.40 241.70h1.56v12.56h-1.56zM309.10 241.70h0.86v12.56h-0.86zM309.90 241.70h1.56v12.56h-1.56zM313.80 266.80h0.86v12.86h-0.86zM319.40 279.60h1.56v13.06h-1.56zM322.50 279.60h0.66v13.06h-0.66zM323.10 266.80h0.96v12.86h-0.96zM323.10 279.60h0.96v13.06h-0.96z" fill="#eac3c3"/><path d="M250.90 217.20h1.26v12.36h-1.26zM252.70 217.20h0.66v12.36h-0.66zM254.50 217.20h1.56v12.36h-1.56zM258.80 217.20h1.06v12.36h-1.06zM259.80 217.20h1.06v12.36h-1.06zM270.00 217.20h1.26v12.36h-1.26zM273.70 217.20h2.06v12.36h-2.06zM279.80 217.20h1.56v12.36h-1.56zM282.80 217.20h2.06v12.36h-2.06zM288.50 217.20h0.86v12.36h-0.86zM289.90 217.20h1.06v12.36h-1.06zM290.90 217.20h1.26v12.36h-1.26zM293.10 217.20h1.26v12.36h-1.26zM297.40 217.20h1.06v12.36h-1.06zM299.90 217.20h1.26v12.36h-1.26zM309.10 229.50h0.86v12.26h-0.86zM331.40 217.20h1.26v12.36h-1.26zM333.60 217.20h1.56v12.36h-1.56zM336.60 217.20h1.06v12.36h-1.06zM354.20 217.20h1.06v12.36h-1.06zM356.00 217.20h1.26v12.36h-1.26zM357.20 217.20h1.06v12.36h-1.06zM358.20 217.20h1.06v12.36h-1.06zM384.60 217.20h0.66v12.36h-0.66zM394.60 217.20h2.06v12.36h-2.06zM396.60 217.20h0.86v12.36h-0.86zM408.80 217.20h2.56v12.36h-2.56zM411.30 217.20h1.26v12.36h-1.26zM431.00 217.20h0.86v12.36h-0.86zM439.20 217.20h0.66v12.36h-0.66zM441.60 217.20h0.86v12.36h-0.86zM455.40 217.20h2.56v12.36h-2.56zM460.90 217.20h0.86v12.36h-0.86zM471.50 217.20h1.16v12.36h-1.16z" fill="#eeeef4"/><path d="M250.90 241.70h1.26v12.56h-1.26zM250.90 266.80h1.26v12.86h-1.26zM254.50 241.70h1.56v12.56h-1.56zM256.00 229.50h0.86v12.26h-0.86zM256.00 241.70h0.86v12.56h-0.86zM263.20 241.70h0.86v12.56h-0.86zM263.20 279.60h0.86v13.06h-0.86zM264.80 266.80h1.06v12.86h-1.06zM276.30 241.70h1.56v12.56h-1.56zM276.30 254.20h1.56v12.66h-1.56zM286.00 266.80h1.56v12.86h-1.56zM288.50 229.50h0.86v12.26h-0.86zM288.50 241.70h0.86v12.56h-0.86zM289.30 254.20h0.66v12.66h-0.66zM294.30 229.50h0.66v12.26h-0.66zM299.90 241.70h1.26v12.56h-1.26zM301.10 279.60h1.56v13.06h-1.56zM302.60 229.50h0.86v12.26h-0.86zM309.90 266.80h1.56v12.86h-1.56zM311.40 254.20h0.66v12.66h-0.66zM313.00 241.70h0.86v12.56h-0.86zM313.00 279.60h0.86v13.06h-0.86z" fill="#e19e9b"/><path d="M250.90 279.60h1.26v13.06h-1.26zM252.70 254.20h0.66v12.66h-0.66zM253.30 266.80h1.26v12.86h-1.26zM256.80 279.60h0.86v13.06h-0.86zM258.80 229.50h1.06v12.26h-1.06zM267.00 279.60h1.26v13.06h-1.26zM269.40 229.50h0.66v12.26h-0.66zM270.00 229.50h1.26v12.26h-1.26zM271.20 241.70h1.06v12.56h-1.06zM272.20 279.60h1.56v13.06h-1.56zM275.70 266.80h0.66v12.86h-0.66zM275.70 279.60h0.66v13.06h-0.66zM279.80 241.70h1.56v12.56h-1.56zM282.80 229.50h2.06v12.26h-2.06zM290.90 254.20h1.26v12.66h-1.26zM293.10 266.80h1.26v12.86h-1.26zM293.10 279.60h1.26v13.06h-1.26zM294.30 241.70h0.66v12.56h-0.66zM294.90 266.80h2.56v12.86h-2.56zM297.40 279.60h1.06v13.06h-1.06zM299.90 279.60h1.26v13.06h-1.26zM301.10 254.20h1.56v12.66h-1.56zM304.00 266.80h1.06v12.86h-1.06zM305.00 279.60h0.86v13.06h-0.86zM309.10 254.20h0.86v12.66h-0.86zM313.80 279.60h0.86v13.06h-0.86zM318.40 266.80h1.06v12.86h-1.06zM318.40 279.60h1.06v13.06h-1.06zM322.50 266.80h0.66v12.86h-0.66z" fill="#e8bcbc"/><path d="M252.10 217.20h0.66v12.36h-0.66zM256.80 254.20h0.86v12.66h-0.86zM292.10 217.20h1.06v12.36h-1.06zM298.40 217.20h1.56v12.36h-1.56zM301.10 217.20h1.56v12.36h-1.56zM305.00 217.20h0.86v12.36h-0.86zM312.00 217.20h1.06v12.36h-1.06zM321.90 217.20h0.66v12.36h-0.66zM341.80 217.20h1.56v12.36h-1.56zM361.90 217.20h0.66v12.36h-0.66zM362.50 217.20h1.06v12.36h-1.06zM372.30 217.20h0.66v12.36h-0.66zM386.80 217.20h1.26v12.36h-1.26zM388.00 217.20h0.86v12.36h-0.86zM405.30 217.20h1.56v12.36h-1.56zM417.60 217.20h2.06v12.36h-2.06zM431.80 217.20h0.86v12.36h-0.86zM432.60 217.20h0.66v12.36h-0.66zM435.70 217.20h0.66v12.36h-0.66zM437.10 217.20h1.56v12.36h-1.56zM442.40 217.20h1.26v12.36h-1.26zM444.60 217.20h2.56v12.36h-2.56zM452.90 217.20h1.56v12.36h-1.56zM457.90 217.20h0.86v12.36h-0.86zM459.70 217.20h1.26v12.36h-1.26zM461.70 217.20h2.56v12.36h-2.56zM464.20 217.20h2.06v12.36h-2.06zM467.00 217.20h2.06v12.36h-2.06zM470.50 217.20h1.06v12.36h-1.06z" fill="#f3e8ea"/><path d="M252.10 229.50h0.66v12.26h-0.66zM252.10 241.70h0.66v12.56h-0.66zM254.50 279.60h1.56v13.06h-1.56zM259.80 229.50h1.06v12.26h-1.06zM268.20 241.70h1.26v12.56h-1.26zM273.70 229.50h2.06v12.26h-2.06zM273.70 266.80h2.06v12.86h-2.06zM273.70 279.60h2.06v13.06h-2.06zM286.00 279.60h1.56v13.06h-1.56zM289.30 241.70h0.66v12.56h-0.66zM312.00 241.70h1.06v12.56h-1.06z" fill="#de918e"/><path d="M252.10 254.20h0.66v12.66h-0.66zM253.30 217.20h1.26v12.36h-1.26zM261.60 217.20h0.66v12.36h-0.66zM268.20 217.20h1.26v12.36h-1.26zM312.00 229.50h1.06v12.26h-1.06zM314.60 229.50h0.86v12.26h-0.86zM320.90 217.20h1.06v12.36h-1.06zM332.60 217.20h1.06v12.36h-1.06zM344.10 217.20h1.26v12.36h-1.26zM367.10 217.20h1.26v12.36h-1.26zM368.90 217.20h1.26v12.36h-1.26zM375.90 217.20h2.56v12.36h-2.56zM393.40 217.20h1.26v12.36h-1.26zM406.80 217.20h2.06v12.36h-2.06zM419.60 217.20h1.56v12.36h-1.56zM436.30 217.20h0.86v12.36h-0.86zM439.80 217.20h0.66v12.36h-0.66zM440.40 217.20h0.66v12.36h-0.66zM441.00 217.20h0.66v12.36h-0.66zM466.20 217.20h0.86v12.36h-0.86z" fill="#e5e9f2"/><path d="M252.70 241.70h0.66v12.56h-0.66zM252.70 266.80h0.66v12.86h-0.66zM253.30 279.60h1.26v13.06h-1.26zM260.80 254.20h0.86v12.66h-0.86zM262.20 279.60h1.06v13.06h-1.06zM264.00 279.60h0.86v13.06h-0.86zM265.80 229.50h1.26v12.26h-1.26zM265.80 279.60h1.26v13.06h-1.26zM267.00 229.50h1.26v12.26h-1.26zM271.20 254.20h1.06v12.66h-1.06zM275.70 229.50h0.66v12.26h-0.66zM276.30 279.60h1.56v13.06h-1.56zM278.60 241.70h1.26v12.56h-1.26zM282.80 266.80h2.06v12.86h-2.06zM284.80 254.20h1.26v12.66h-1.26zM287.50 254.20h1.06v12.66h-1.06zM287.50 266.80h1.06v12.86h-1.06zM288.50 254.20h0.86v12.66h-0.86zM289.30 266.80h0.66v12.86h-0.66zM289.30 279.60h0.66v13.06h-0.66zM293.10 229.50h1.26v12.26h-1.26zM294.30 254.20h0.66v12.66h-0.66zM294.30 279.60h0.66v13.06h-0.66zM297.40 266.80h1.06v12.86h-1.06zM301.10 229.50h1.56v12.26h-1.56zM302.60 266.80h0.86v12.86h-0.86zM302.60 279.60h0.86v13.06h-0.86zM303.40 241.70h0.66v12.56h-0.66zM304.00 241.70h1.06v12.56h-1.06zM304.00 279.60h1.06v13.06h-1.06zM305.00 254.20h0.86v12.66h-0.86zM305.80 241.70h0.86v12.56h-0.86zM305.80 254.20h0.86v12.66h-0.86zM306.60 266.80h2.56v12.86h-2.56zM309.90 279.60h1.56v13.06h-1.56zM311.40 241.70h0.66v12.56h-0.66zM313.00 266.80h0.86v12.86h-0.86zM315.40 266.80h2.06v12.86h-2.06zM319.40 266.80h1.56v12.86h-1.56z" fill="#e7b6b6"/><path d="M253.30 229.50h1.26v12.26h-1.26zM259.80 241.70h1.06v12.56h-1.06zM259.80 254.20h1.06v12.66h-1.06zM259.80 279.60h1.06v13.06h-1.06zM263.20 229.50h0.86v12.26h-0.86zM264.80 229.50h1.06v12.26h-1.06zM268.20 229.50h1.26v12.26h-1.26zM270.00 241.70h1.26v12.56h-1.26zM273.70 241.70h2.06v12.56h-2.06zM278.60 254.20h1.26v12.66h-1.26zM279.80 266.80h1.56v12.86h-1.56zM282.80 241.70h2.06v12.56h-2.06zM286.00 229.50h1.56v12.26h-1.56zM286.00 241.70h1.56v12.56h-1.56zM289.90 229.50h1.06v12.26h-1.06zM294.90 229.50h2.56v12.26h-2.56zM302.60 254.20h0.86v12.66h-0.86zM304.00 254.20h1.06v12.66h-1.06z" fill="#e09895"/><path d="M254.50 229.50h1.56v12.26h-1.56zM254.50 266.80h1.56v12.86h-1.56zM279.80 254.20h1.56v12.66h-1.56zM289.90 254.20h1.06v12.66h-1.06z" fill="#dc8b88"/><path d="M256.00 217.20h0.86v12.36h-0.86zM263.20 217.20h0.86v12.36h-0.86zM268.20 254.20h1.26v12.66h-1.26zM271.20 217.20h1.06v12.36h-1.06zM272.20 217.20h1.56v12.36h-1.56zM275.70 217.20h0.66v12.36h-0.66zM276.30 217.20h1.56v12.36h-1.56zM277.80 217.20h0.86v12.36h-0.86zM281.30 217.20h1.56v12.36h-1.56zM294.30 217.20h0.66v12.36h-0.66zM302.60 217.20h0.86v12.36h-0.86zM304.00 229.50h1.06v12.26h-1.06zM305.80 217.20h0.86v12.36h-0.86zM312.00 254.20h1.06v12.66h-1.06zM314.60 217.20h0.86v12.36h-0.86zM318.40 217.20h1.06v12.36h-1.06zM318.40 229.50h1.06v12.26h-1.06zM319.40 229.50h1.56v12.26h-1.56zM323.10 217.20h0.96v12.36h-0.96zM329.60 217.20h0.66v12.36h-0.66zM330.20 217.20h1.26v12.36h-1.26zM335.10 217.20h1.56v12.36h-1.56zM340.00 217.20h0.66v12.36h-0.66zM340.60 217.20h1.26v12.36h-1.26zM345.30 217.20h1.06v12.36h-1.06zM346.30 217.20h1.06v12.36h-1.06zM347.30 217.20h1.26v12.36h-1.26zM351.60 217.20h0.66v12.36h-0.66zM352.20 217.20h2.06v12.36h-2.06zM359.20 217.20h1.56v12.36h-1.56zM360.70 217.20h0.66v12.36h-0.66zM361.30 217.20h0.66v12.36h-0.66zM363.50 217.20h0.86v12.36h-0.86zM364.90 217.20h1.06v12.36h-1.06zM365.90 217.20h1.26v12.36h-1.26zM368.30 217.20h0.66v12.36h-0.66zM374.90 217.20h1.06v12.36h-1.06zM378.40 217.20h0.86v12.36h-0.86zM379.20 217.20h0.66v12.36h-0.66zM381.40 217.20h1.06v12.36h-1.06zM382.40 217.20h1.06v12.36h-1.06zM383.40 217.20h1.26v12.36h-1.26zM385.20 217.20h1.06v12.36h-1.06zM386.20 217.20h0.66v12.36h-0.66zM391.00 217.20h0.66v12.36h-0.66zM398.60 217.20h0.86v12.36h-0.86zM403.90 217.20h0.86v12.36h-0.86zM404.70 217.20h0.66v12.36h-0.66zM412.50 217.20h1.06v12.36h-1.06zM414.10 217.20h1.06v12.36h-1.06zM422.30 217.20h1.56v12.36h-1.56zM423.80 217.20h1.56v12.36h-1.56zM425.90 217.20h0.86v12.36h-0.86zM426.70 217.20h2.56v12.36h-2.56zM429.20 217.20h1.06v12.36h-1.06zM438.60 217.20h0.66v12.36h-0.66zM451.90 217.20h1.06v12.36h-1.06zM458.70 217.20h1.06v12.36h-1.06zM469.00 217.20h1.56v12.36h-1.56z" fill="#f6f4f7"/><path d="M256.00 254.20h0.86v12.66h-0.86zM256.80 266.80h0.86v12.86h-0.86zM261.60 229.50h0.66v12.26h-0.66zM262.20 229.50h1.06v12.26h-1.06zM277.80 254.20h0.86v12.66h-0.86zM290.90 279.60h1.26v13.06h-1.26zM298.40 266.80h1.56v12.86h-1.56zM306.60 241.70h2.56v12.56h-2.56zM309.10 266.80h0.86v12.86h-0.86zM313.80 241.70h0.86v12.56h-0.86zM313.80 254.20h0.86v12.66h-0.86zM314.60 241.70h0.86v12.56h-0.86zM315.40 279.60h2.06v13.06h-2.06zM317.40 266.80h1.06v12.86h-1.06zM317.40 279.60h1.06v13.06h-1.06zM321.90 266.80h0.66v12.86h-0.66z" fill="#edcfd0"/><path d="M256.80 217.20h0.86v12.36h-0.86zM257.60 279.60h1.26v13.06h-1.26zM261.60 279.60h0.66v13.06h-0.66zM262.20 254.20h1.06v12.66h-1.06zM281.30 266.80h1.56v12.86h-1.56zM315.40 254.20h2.06v12.66h-2.06zM370.10 217.20h1.06v12.36h-1.06zM443.60 217.20h1.06v12.36h-1.06z" fill="#f0dbdd"/><path d="M257.60 217.20h1.26v12.36h-1.26zM265.80 217.20h1.26v12.36h-1.26zM269.40 217.20h0.66v12.36h-0.66zM284.80 217.20h1.26v12.36h-1.26zM286.00 217.20h1.56v12.36h-1.56zM292.10 254.20h1.06v12.66h-1.06zM294.90 217.20h2.56v12.36h-2.56zM303.40 217.20h0.66v12.36h-0.66zM304.00 217.20h1.06v12.36h-1.06zM305.80 229.50h0.86v12.26h-0.86zM306.60 217.20h2.56v12.36h-2.56zM313.00 217.20h0.86v12.36h-0.86zM313.80 217.20h0.86v12.36h-0.86zM315.40 217.20h2.06v12.36h-2.06zM318.40 254.20h1.06v12.66h-1.06zM319.40 217.20h1.56v12.36h-1.56zM322.50 217.20h0.66v12.36h-0.66zM337.60 217.20h1.26v12.36h-1.26zM338.80 217.20h1.26v12.36h-1.26zM348.50 217.20h0.66v12.36h-0.66zM349.10 217.20h2.56v12.36h-2.56zM355.20 217.20h0.86v12.36h-0.86zM364.30 217.20h0.66v12.36h-0.66zM372.90 217.20h2.06v12.36h-2.06zM379.80 217.20h1.06v12.36h-1.06zM380.80 217.20h0.66v12.36h-0.66zM388.80 217.20h1.06v12.36h-1.06zM389.80 217.20h1.26v12.36h-1.26zM392.60 217.20h0.86v12.36h-0.86zM399.40 217.20h2.06v12.36h-2.06zM401.40 217.20h2.56v12.36h-2.56zM413.50 217.20h0.66v12.36h-0.66zM415.10 217.20h1.06v12.36h-1.06zM416.10 217.20h1.56v12.36h-1.56zM421.10 217.20h1.26v12.36h-1.26zM425.30 217.20h0.66v12.36h-0.66zM430.20 217.20h0.86v12.36h-0.86zM433.20 217.20h2.56v12.36h-2.56zM447.10 217.20h1.26v12.36h-1.26zM448.30 217.20h1.06v12.36h-1.06zM449.30 217.20h0.66v12.36h-0.66zM449.90 217.20h2.06v12.36h-2.06zM454.40 217.20h1.06v12.36h-1.06z" fill="#f4eef0"/><path d="M257.60 229.50h1.26v12.26h-1.26zM257.60 241.70h1.26v12.56h-1.26zM262.20 266.80h1.06v12.86h-1.06zM269.40 254.20h0.66v12.66h-0.66zM273.70 254.20h2.06v12.66h-2.06zM277.80 266.80h0.86v12.86h-0.86zM278.60 266.80h1.26v12.86h-1.26zM281.30 241.70h1.56v12.56h-1.56zM281.30 279.60h1.56v13.06h-1.56zM290.90 229.50h1.26v12.26h-1.26zM298.40 279.60h1.56v13.06h-1.56zM305.80 266.80h0.86v12.86h-0.86zM315.40 241.70h2.06v12.56h-2.06zM317.40 241.70h1.06v12.56h-1.06zM321.90 279.60h0.66v13.06h-0.66z" fill="#ecc9c9"/><path d="M257.60 254.20h1.26v12.66h-1.26zM261.60 266.80h0.66v12.86h-0.66zM277.80 241.70h0.86v12.56h-0.86zM290.90 266.80h1.26v12.86h-1.26zM292.10 266.80h1.06v12.86h-1.06zM305.80 279.60h0.86v13.06h-0.86zM313.00 254.20h0.86v12.66h-0.86zM314.60 266.80h0.86v12.86h-0.86zM314.60 279.60h0.86v13.06h-0.86z" fill="#eed5d6"/><path d="M259.80 266.80h1.06v12.86h-1.06zM260.80 229.50h0.86v12.26h-0.86zM261.60 254.20h0.66v12.66h-0.66zM264.80 279.60h1.06v13.06h-1.06zM267.00 254.20h1.26v12.66h-1.26zM269.40 241.70h0.66v12.56h-0.66zM269.40 266.80h0.66v12.86h-0.66zM271.20 266.80h1.06v12.86h-1.06zM276.30 229.50h1.56v12.26h-1.56zM278.60 229.50h1.26v12.26h-1.26zM279.80 229.50h1.56v12.26h-1.56zM279.80 279.60h1.56v13.06h-1.56zM286.00 254.20h1.56v12.66h-1.56zM287.50 229.50h1.06v12.26h-1.06zM287.50 241.70h1.06v12.56h-1.06zM289.30 229.50h0.66v12.26h-0.66zM289.90 241.70h1.06v12.56h-1.06zM289.90 266.80h1.06v12.86h-1.06zM289.90 279.60h1.06v13.06h-1.06zM292.10 279.60h1.06v13.06h-1.06zM297.40 254.20h1.06v12.66h-1.06zM301.10 241.70h1.56v12.56h-1.56zM301.10 266.80h1.56v12.86h-1.56zM311.40 279.60h0.66v13.06h-0.66zM312.00 279.60h1.06v13.06h-1.06z" fill="#e2a4a2"/><path d="M260.80 217.20h0.86v12.36h-0.86zM313.00 229.50h0.86v12.26h-0.86zM397.40 217.20h1.26v12.36h-1.26z" fill="#d5deec"/><path d="M267.00 217.20h1.26v12.36h-1.26zM287.50 217.20h1.06v12.36h-1.06zM313.80 229.50h0.86v12.26h-0.86zM315.40 229.50h2.06v12.26h-2.06zM343.30 217.20h0.86v12.36h-0.86zM391.60 217.20h1.06v12.36h-1.06z" fill="#dde4ef"/><path d="M282.80 279.60h2.06v13.06h-2.06z" fill="#db8581"/><path d="M309.10 217.20h0.86v12.36h-0.86zM309.90 217.20h1.56v12.36h-1.56zM311.40 217.20h0.66v12.36h-0.66zM317.40 217.20h1.06v12.36h-1.06zM317.40 229.50h1.06v12.26h-1.06zM319.40 254.20h1.56v12.66h-1.56zM331.40 229.50h1.26v12.26h-1.26zM332.60 229.50h1.06v12.26h-1.06zM333.60 229.50h1.56v12.26h-1.56z" fill="#ccd8e9"/><path d="M309.90 229.50h1.56v12.26h-1.56zM330.20 229.50h1.26v12.26h-1.26zM425.30 254.20h0.66v12.66h-0.66z" fill="#bccee4"/><path d="M309.90 254.20h1.56v12.66h-1.56z" fill="#d87974"/><path d="M311.40 229.50h0.66v12.26h-0.66zM317.40 254.20h1.06v12.66h-1.06z" fill="#b3c8e1"/><path d="M318.40 241.70h1.06v12.56h-1.06zM319.40 241.70h1.56v12.56h-1.56zM320.90 241.70h1.06v12.56h-1.06zM321.90 241.70h0.66v12.56h-0.66zM322.50 241.70h0.66v12.56h-0.66zM323.10 241.70h0.96v12.56h-0.96zM332.60 241.70h1.06v12.56h-1.06zM333.60 279.60h1.56v13.06h-1.56zM336.60 279.60h1.06v13.06h-1.06zM340.00 229.50h0.66v12.26h-0.66zM340.00 241.70h0.66v12.56h-0.66zM340.00 254.20h0.66v12.66h-0.66zM340.00 279.60h0.66v13.06h-0.66zM348.50 229.50h0.66v12.26h-0.66zM349.10 266.80h2.56v12.86h-2.56zM349.10 279.60h2.56v13.06h-2.56zM355.20 266.80h0.86v12.86h-0.86zM356.00 266.80h1.26v12.86h-1.26zM361.30 229.50h0.66v12.26h-0.66zM361.30 241.70h0.66v12.56h-0.66zM361.30 254.20h0.66v12.66h-0.66zM361.30 266.80h0.66v12.86h-0.66zM362.50 279.60h1.06v13.06h-1.06zM364.30 254.20h0.66v12.66h-0.66zM364.30 266.80h0.66v12.86h-0.66zM367.10 229.50h1.26v12.26h-1.26zM367.10 254.20h1.26v12.66h-1.26zM371.10 266.80h1.26v12.86h-1.26zM375.90 241.70h2.56v12.56h-2.56zM375.90 254.20h2.56v12.66h-2.56zM378.40 254.20h0.86v12.66h-0.86zM379.20 229.50h0.66v12.26h-0.66zM379.20 241.70h0.66v12.56h-0.66zM381.40 254.20h1.06v12.66h-1.06zM383.40 229.50h1.26v12.26h-1.26zM393.40 279.60h1.26v13.06h-1.26zM394.60 241.70h2.06v12.56h-2.06zM396.60 229.50h0.86v12.26h-0.86zM397.40 229.50h1.26v12.26h-1.26zM397.40 254.20h1.26v12.66h-1.26zM414.10 241.70h1.06v12.56h-1.06zM416.10 241.70h1.56v12.56h-1.56zM421.10 229.50h1.26v12.26h-1.26zM421.10 266.80h1.26v12.86h-1.26zM431.80 229.50h0.86v12.26h-0.86zM436.30 241.70h0.86v12.56h-0.86zM436.30 254.20h0.86v12.66h-0.86zM439.80 241.70h0.66v12.56h-0.66zM442.40 229.50h1.26v12.26h-1.26zM442.40 279.60h1.26v13.06h-1.26zM443.60 279.60h1.06v13.06h-1.06zM447.10 229.50h1.26v12.26h-1.26zM447.10 241.70h1.26v12.56h-1.26zM447.10 254.20h1.26v12.66h-1.26zM448.30 254.20h1.06v12.66h-1.06zM448.30 279.60h1.06v13.06h-1.06zM461.70 229.50h2.56v12.26h-2.56zM461.70 254.20h2.56v12.66h-2.56zM466.20 254.20h0.86v12.66h-0.86zM466.20 279.60h0.86v13.06h-0.86zM471.50 254.20h1.16v12.66h-1.16zM471.50 266.80h1.16v12.86h-1.16zM471.50 279.60h1.16v13.06h-1.16z" fill="#3f7bbb"/><path d="M320.90 229.50h1.06v12.26h-1.06zM321.90 229.50h0.66v12.26h-0.66zM322.50 229.50h0.66v12.26h-0.66zM323.10 229.50h0.96v12.26h-0.96zM329.60 229.50h0.66v12.26h-0.66z" fill="#c4d3e7"/><path d="M320.90 254.20h1.06v12.66h-1.06zM321.90 254.20h0.66v12.66h-0.66zM347.30 254.20h1.26v12.66h-1.26zM386.20 254.20h0.66v12.66h-0.66zM408.80 254.20h2.56v12.66h-2.56zM432.60 254.20h0.66v12.66h-0.66z" fill="#abc2df"/><path d="M322.50 254.20h0.66v12.66h-0.66zM340.60 254.20h1.26v12.66h-1.26zM344.10 229.50h1.26v12.26h-1.26zM359.20 229.50h1.56v12.26h-1.56zM361.90 229.50h0.66v12.26h-0.66zM417.60 279.60h2.06v13.06h-2.06zM430.20 254.20h0.86v12.66h-0.86zM441.00 254.20h0.66v12.66h-0.66zM449.30 229.50h0.66v12.26h-0.66zM458.70 266.80h1.06v12.86h-1.06zM470.50 229.50h1.06v12.26h-1.06z" fill="#92b2d6"/><path d="M323.10 254.20h0.96v12.66h-0.96zM351.60 229.50h0.66v12.26h-0.66zM378.40 241.70h0.86v12.56h-0.86zM388.00 254.20h0.86v12.66h-0.86zM391.00 241.70h0.66v12.56h-0.66zM394.60 266.80h2.06v12.86h-2.06z" fill="#719ccc"/><path d="M329.60 241.70h0.66v12.56h-0.66zM329.60 254.20h0.66v12.66h-0.66zM329.60 266.80h0.66v12.86h-0.66zM329.60 279.60h0.66v13.06h-0.66zM330.20 241.70h1.26v12.56h-1.26zM330.20 254.20h1.26v12.66h-1.26zM330.20 266.80h1.26v12.86h-1.26zM330.20 279.60h1.26v13.06h-1.26zM331.40 241.70h1.26v12.56h-1.26zM332.60 266.80h1.06v12.86h-1.06zM333.60 266.80h1.56v12.86h-1.56zM335.10 229.50h1.56v12.26h-1.56zM335.10 241.70h1.56v12.56h-1.56zM335.10 254.20h1.56v12.66h-1.56zM335.10 266.80h1.56v12.86h-1.56zM335.10 279.60h1.56v13.06h-1.56zM336.60 229.50h1.06v12.26h-1.06zM336.60 241.70h1.06v12.56h-1.06zM337.60 229.50h1.26v12.26h-1.26zM337.60 254.20h1.26v12.66h-1.26zM337.60 266.80h1.26v12.86h-1.26zM337.60 279.60h1.26v13.06h-1.26zM338.80 229.50h1.26v12.26h-1.26zM338.80 241.70h1.26v12.56h-1.26zM338.80 254.20h1.26v12.66h-1.26zM338.80 266.80h1.26v12.86h-1.26zM338.80 279.60h1.26v13.06h-1.26zM340.00 266.80h0.66v12.86h-0.66zM340.60 229.50h1.26v12.26h-1.26zM340.60 241.70h1.26v12.56h-1.26zM340.60 279.60h1.26v13.06h-1.26zM341.80 229.50h1.56v12.26h-1.56zM341.80 241.70h1.56v12.56h-1.56zM341.80 254.20h1.56v12.66h-1.56zM341.80 266.80h1.56v12.86h-1.56zM341.80 279.60h1.56v13.06h-1.56zM343.30 229.50h0.86v12.26h-0.86zM343.30 241.70h0.86v12.56h-0.86zM343.30 254.20h0.86v12.66h-0.86zM343.30 266.80h0.86v12.86h-0.86zM343.30 279.60h0.86v13.06h-0.86zM344.10 241.70h1.26v12.56h-1.26zM344.10 254.20h1.26v12.66h-1.26zM344.10 266.80h1.26v12.86h-1.26zM344.10 279.60h1.26v13.06h-1.26zM345.30 241.70h1.06v12.56h-1.06zM345.30 266.80h1.06v12.86h-1.06zM345.30 279.60h1.06v13.06h-1.06zM346.30 241.70h1.06v12.56h-1.06zM347.30 229.50h1.26v12.26h-1.26zM347.30 241.70h1.26v12.56h-1.26zM347.30 266.80h1.26v12.86h-1.26zM347.30 279.60h1.26v13.06h-1.26zM348.50 279.60h0.66v13.06h-0.66zM349.10 241.70h2.56v12.56h-2.56zM349.10 254.20h2.56v12.66h-2.56zM351.60 241.70h0.66v12.56h-0.66zM351.60 254.20h0.66v12.66h-0.66zM351.60 266.80h0.66v12.86h-0.66zM351.60 279.60h0.66v13.06h-0.66zM352.20 229.50h2.06v12.26h-2.06zM352.20 241.70h2.06v12.56h-2.06zM352.20 254.20h2.06v12.66h-2.06zM352.20 266.80h2.06v12.86h-2.06zM352.20 279.60h2.06v13.06h-2.06zM354.20 229.50h1.06v12.26h-1.06zM354.20 241.70h1.06v12.56h-1.06zM354.20 254.20h1.06v12.66h-1.06zM354.20 266.80h1.06v12.86h-1.06zM355.20 241.70h0.86v12.56h-0.86zM355.20 254.20h0.86v12.66h-0.86zM355.20 279.60h0.86v13.06h-0.86zM356.00 229.50h1.26v12.26h-1.26zM356.00 241.70h1.26v12.56h-1.26zM356.00 279.60h1.26v13.06h-1.26zM357.20 229.50h1.06v12.26h-1.06zM357.20 241.70h1.06v12.56h-1.06zM357.20 254.20h1.06v12.66h-1.06zM357.20 266.80h1.06v12.86h-1.06zM357.20 279.60h1.06v13.06h-1.06zM358.20 229.50h1.06v12.26h-1.06zM358.20 266.80h1.06v12.86h-1.06zM358.20 279.60h1.06v13.06h-1.06zM359.20 241.70h1.56v12.56h-1.56zM359.20 254.20h1.56v12.66h-1.56zM359.20 279.60h1.56v13.06h-1.56zM360.70 229.50h0.66v12.26h-0.66zM360.70 241.70h0.66v12.56h-0.66zM360.70 254.20h0.66v12.66h-0.66zM360.70 266.80h0.66v12.86h-0.66zM360.70 279.60h0.66v13.06h-0.66zM361.30 279.60h0.66v13.06h-0.66zM361.90 241.70h0.66v12.56h-0.66zM361.90 254.20h0.66v12.66h-0.66zM361.90 266.80h0.66v12.86h-0.66zM361.90 279.60h0.66v13.06h-0.66zM362.50 229.50h1.06v12.26h-1.06zM362.50 254.20h1.06v12.66h-1.06zM362.50 266.80h1.06v12.86h-1.06zM363.50 229.50h0.86v12.26h-0.86zM363.50 241.70h0.86v12.56h-0.86zM363.50 254.20h0.86v12.66h-0.86zM363.50 266.80h0.86v12.86h-0.86zM363.50 279.60h0.86v13.06h-0.86zM364.30 229.50h0.66v12.26h-0.66zM364.30 241.70h0.66v12.56h-0.66zM364.30 279.60h0.66v13.06h-0.66zM364.90 229.50h1.06v12.26h-1.06zM364.90 241.70h1.06v12.56h-1.06zM364.90 266.80h1.06v12.86h-1.06zM364.90 279.60h1.06v13.06h-1.06zM365.90 241.70h1.26v12.56h-1.26zM365.90 254.20h1.26v12.66h-1.26zM365.90 266.80h1.26v12.86h-1.26zM365.90 279.60h1.26v13.06h-1.26zM367.10 279.60h1.26v13.06h-1.26zM368.30 229.50h0.66v12.26h-0.66zM368.30 279.60h0.66v13.06h-0.66zM368.90 229.50h1.26v12.26h-1.26zM368.90 241.70h1.26v12.56h-1.26zM368.90 254.20h1.26v12.66h-1.26zM368.90 266.80h1.26v12.86h-1.26zM368.90 279.60h1.26v13.06h-1.26zM370.10 229.50h1.06v12.26h-1.06zM370.10 241.70h1.06v12.56h-1.06zM370.10 254.20h1.06v12.66h-1.06zM370.10 266.80h1.06v12.86h-1.06zM370.10 279.60h1.06v13.06h-1.06zM371.10 241.70h1.26v12.56h-1.26zM371.10 254.20h1.26v12.66h-1.26zM371.10 279.60h1.26v13.06h-1.26zM372.30 229.50h0.66v12.26h-0.66zM372.30 279.60h0.66v13.06h-0.66zM372.90 229.50h2.06v12.26h-2.06zM372.90 254.20h2.06v12.66h-2.06zM372.90 266.80h2.06v12.86h-2.06zM372.90 279.60h2.06v13.06h-2.06zM374.90 229.50h1.06v12.26h-1.06zM374.90 241.70h1.06v12.56h-1.06zM374.90 254.20h1.06v12.66h-1.06zM374.90 279.60h1.06v13.06h-1.06zM375.90 229.50h2.56v12.26h-2.56zM375.90 266.80h2.56v12.86h-2.56zM375.90 279.60h2.56v13.06h-2.56zM379.20 266.80h0.66v12.86h-0.66zM379.20 279.60h0.66v13.06h-0.66zM379.80 229.50h1.06v12.26h-1.06zM379.80 254.20h1.06v12.66h-1.06zM379.80 279.60h1.06v13.06h-1.06zM380.80 229.50h0.66v12.26h-0.66zM380.80 254.20h0.66v12.66h-0.66zM380.80 266.80h0.66v12.86h-0.66zM380.80 279.60h0.66v13.06h-0.66zM381.40 241.70h1.06v12.56h-1.06zM382.40 229.50h1.06v12.26h-1.06zM382.40 241.70h1.06v12.56h-1.06zM382.40 254.20h1.06v12.66h-1.06zM382.40 266.80h1.06v12.86h-1.06zM383.40 241.70h1.26v12.56h-1.26zM383.40 266.80h1.26v12.86h-1.26zM384.60 229.50h0.66v12.26h-0.66zM384.60 241.70h0.66v12.56h-0.66zM384.60 254.20h0.66v12.66h-0.66zM384.60 266.80h0.66v12.86h-0.66zM384.60 279.60h0.66v13.06h-0.66zM385.20 229.50h1.06v12.26h-1.06zM385.20 241.70h1.06v12.56h-1.06zM385.20 254.20h1.06v12.66h-1.06zM385.20 266.80h1.06v12.86h-1.06zM385.20 279.60h1.06v13.06h-1.06zM386.20 229.50h0.66v12.26h-0.66zM386.20 241.70h0.66v12.56h-0.66zM386.20 266.80h0.66v12.86h-0.66zM386.20 279.60h0.66v13.06h-0.66zM386.80 241.70h1.26v12.56h-1.26zM386.80 254.20h1.26v12.66h-1.26zM386.80 266.80h1.26v12.86h-1.26zM386.80 279.60h1.26v13.06h-1.26zM388.00 229.50h0.86v12.26h-0.86zM388.00 241.70h0.86v12.56h-0.86zM388.00 266.80h0.86v12.86h-0.86zM388.00 279.60h0.86v13.06h-0.86zM388.80 229.50h1.06v12.26h-1.06zM388.80 241.70h1.06v12.56h-1.06zM388.80 254.20h1.06v12.66h-1.06zM388.80 266.80h1.06v12.86h-1.06zM388.80 279.60h1.06v13.06h-1.06zM389.80 229.50h1.26v12.26h-1.26zM389.80 241.70h1.26v12.56h-1.26zM389.80 254.20h1.26v12.66h-1.26zM389.80 266.80h1.26v12.86h-1.26zM389.80 279.60h1.26v13.06h-1.26zM391.00 229.50h0.66v12.26h-0.66zM391.00 254.20h0.66v12.66h-0.66zM391.00 266.80h0.66v12.86h-0.66zM391.00 279.60h0.66v13.06h-0.66zM391.60 241.70h1.06v12.56h-1.06zM391.60 254.20h1.06v12.66h-1.06zM391.60 266.80h1.06v12.86h-1.06zM391.60 279.60h1.06v13.06h-1.06zM392.60 229.50h0.86v12.26h-0.86zM392.60 241.70h0.86v12.56h-0.86zM392.60 254.20h0.86v12.66h-0.86zM392.60 266.80h0.86v12.86h-0.86zM392.60 279.60h0.86v13.06h-0.86zM393.40 229.50h1.26v12.26h-1.26zM393.40 241.70h1.26v12.56h-1.26zM393.40 266.80h1.26v12.86h-1.26zM394.60 229.50h2.06v12.26h-2.06zM396.60 241.70h0.86v12.56h-0.86zM398.60 229.50h0.86v12.26h-0.86zM398.60 241.70h0.86v12.56h-0.86zM398.60 254.20h0.86v12.66h-0.86zM398.60 266.80h0.86v12.86h-0.86zM398.60 279.60h0.86v13.06h-0.86zM399.40 241.70h2.06v12.56h-2.06zM401.40 229.50h2.56v12.26h-2.56zM401.40 241.70h2.56v12.56h-2.56zM401.40 254.20h2.56v12.66h-2.56zM401.40 266.80h2.56v12.86h-2.56zM401.40 279.60h2.56v13.06h-2.56zM403.90 229.50h0.86v12.26h-0.86zM403.90 241.70h0.86v12.56h-0.86zM403.90 266.80h0.86v12.86h-0.86zM403.90 279.60h0.86v13.06h-0.86zM404.70 229.50h0.66v12.26h-0.66zM404.70 266.80h0.66v12.86h-0.66zM404.70 279.60h0.66v13.06h-0.66zM405.30 229.50h1.56v12.26h-1.56zM405.30 241.70h1.56v12.56h-1.56zM405.30 266.80h1.56v12.86h-1.56zM405.30 279.60h1.56v13.06h-1.56zM406.80 254.20h2.06v12.66h-2.06zM406.80 266.80h2.06v12.86h-2.06zM406.80 279.60h2.06v13.06h-2.06zM408.80 229.50h2.56v12.26h-2.56zM408.80 241.70h2.56v12.56h-2.56zM408.80 266.80h2.56v12.86h-2.56zM408.80 279.60h2.56v13.06h-2.56zM411.30 229.50h1.26v12.26h-1.26zM411.30 241.70h1.26v12.56h-1.26zM411.30 254.20h1.26v12.66h-1.26zM411.30 266.80h1.26v12.86h-1.26zM411.30 279.60h1.26v13.06h-1.26zM412.50 229.50h1.06v12.26h-1.06zM412.50 254.20h1.06v12.66h-1.06zM412.50 266.80h1.06v12.86h-1.06zM413.50 229.50h0.66v12.26h-0.66zM413.50 254.20h0.66v12.66h-0.66zM414.10 229.50h1.06v12.26h-1.06zM414.10 254.20h1.06v12.66h-1.06zM414.10 266.80h1.06v12.86h-1.06zM414.10 279.60h1.06v13.06h-1.06zM415.10 229.50h1.06v12.26h-1.06zM415.10 241.70h1.06v12.56h-1.06zM415.10 254.20h1.06v12.66h-1.06zM415.10 266.80h1.06v12.86h-1.06zM415.10 279.60h1.06v13.06h-1.06zM416.10 229.50h1.56v12.26h-1.56zM416.10 254.20h1.56v12.66h-1.56zM416.10 266.80h1.56v12.86h-1.56zM416.10 279.60h1.56v13.06h-1.56zM417.60 254.20h2.06v12.66h-2.06zM419.60 229.50h1.56v12.26h-1.56zM419.60 254.20h1.56v12.66h-1.56zM419.60 266.80h1.56v12.86h-1.56zM419.60 279.60h1.56v13.06h-1.56zM421.10 241.70h1.26v12.56h-1.26zM421.10 254.20h1.26v12.66h-1.26zM421.10 279.60h1.26v13.06h-1.26zM422.30 229.50h1.56v12.26h-1.56zM422.30 241.70h1.56v12.56h-1.56zM422.30 254.20h1.56v12.66h-1.56zM422.30 266.80h1.56v12.86h-1.56zM422.30 279.60h1.56v13.06h-1.56zM423.80 241.70h1.56v12.56h-1.56zM423.80 254.20h1.56v12.66h-1.56zM423.80 266.80h1.56v12.86h-1.56zM425.30 229.50h0.66v12.26h-0.66zM425.30 241.70h0.66v12.56h-0.66zM425.90 229.50h0.86v12.26h-0.86zM425.90 241.70h0.86v12.56h-0.86zM425.90 254.20h0.86v12.66h-0.86zM425.90 266.80h0.86v12.86h-0.86zM425.90 279.60h0.86v13.06h-0.86zM426.70 229.50h2.56v12.26h-2.56zM426.70 266.80h2.56v12.86h-2.56zM426.70 279.60h2.56v13.06h-2.56zM429.20 229.50h1.06v12.26h-1.06zM429.20 241.70h1.06v12.56h-1.06zM429.20 254.20h1.06v12.66h-1.06zM429.20 266.80h1.06v12.86h-1.06zM429.20 279.60h1.06v13.06h-1.06zM430.20 229.50h0.86v12.26h-0.86zM430.20 241.70h0.86v12.56h-0.86zM430.20 266.80h0.86v12.86h-0.86zM431.00 229.50h0.86v12.26h-0.86zM431.00 241.70h0.86v12.56h-0.86zM431.00 254.20h0.86v12.66h-0.86zM431.00 266.80h0.86v12.86h-0.86zM431.80 241.70h0.86v12.56h-0.86zM431.80 254.20h0.86v12.66h-0.86zM431.80 266.80h0.86v12.86h-0.86zM431.80 279.60h0.86v13.06h-0.86zM432.60 229.50h0.66v12.26h-0.66zM432.60 241.70h0.66v12.56h-0.66zM432.60 266.80h0.66v12.86h-0.66zM432.60 279.60h0.66v13.06h-0.66zM433.20 241.70h2.56v12.56h-2.56zM433.20 254.20h2.56v12.66h-2.56zM433.20 266.80h2.56v12.86h-2.56zM433.20 279.60h2.56v13.06h-2.56zM435.70 229.50h0.66v12.26h-0.66zM435.70 241.70h0.66v12.56h-0.66zM436.30 279.60h0.86v13.06h-0.86zM437.10 229.50h1.56v12.26h-1.56zM437.10 254.20h1.56v12.66h-1.56zM437.10 266.80h1.56v12.86h-1.56zM437.10 279.60h1.56v13.06h-1.56zM438.60 229.50h0.66v12.26h-0.66zM438.60 241.70h0.66v12.56h-0.66zM438.60 254.20h0.66v12.66h-0.66zM438.60 266.80h0.66v12.86h-0.66zM438.60 279.60h0.66v13.06h-0.66zM439.20 229.50h0.66v12.26h-0.66zM439.20 241.70h0.66v12.56h-0.66zM439.20 254.20h0.66v12.66h-0.66zM439.20 266.80h0.66v12.86h-0.66zM439.20 279.60h0.66v13.06h-0.66zM439.80 229.50h0.66v12.26h-0.66zM439.80 254.20h0.66v12.66h-0.66zM439.80 279.60h0.66v13.06h-0.66zM440.40 229.50h0.66v12.26h-0.66zM440.40 241.70h0.66v12.56h-0.66zM440.40 254.20h0.66v12.66h-0.66zM440.40 266.80h0.66v12.86h-0.66zM440.40 279.60h0.66v13.06h-0.66zM441.00 229.50h0.66v12.26h-0.66zM441.00 241.70h0.66v12.56h-0.66zM441.00 266.80h0.66v12.86h-0.66zM441.00 279.60h0.66v13.06h-0.66zM441.60 229.50h0.86v12.26h-0.86zM441.60 241.70h0.86v12.56h-0.86zM441.60 254.20h0.86v12.66h-0.86zM441.60 266.80h0.86v12.86h-0.86zM441.60 279.60h0.86v13.06h-0.86zM443.60 229.50h1.06v12.26h-1.06zM443.60 241.70h1.06v12.56h-1.06zM443.60 254.20h1.06v12.66h-1.06zM444.60 229.50h2.56v12.26h-2.56zM444.60 241.70h2.56v12.56h-2.56zM444.60 254.20h2.56v12.66h-2.56zM444.60 266.80h2.56v12.86h-2.56zM444.60 279.60h2.56v13.06h-2.56zM447.10 266.80h1.26v12.86h-1.26zM447.10 279.60h1.26v13.06h-1.26zM448.30 229.50h1.06v12.26h-1.06zM448.30 266.80h1.06v12.86h-1.06zM449.30 241.70h0.66v12.56h-0.66zM449.30 254.20h0.66v12.66h-0.66zM449.30 266.80h0.66v12.86h-0.66zM449.90 229.50h2.06v12.26h-2.06zM449.90 241.70h2.06v12.56h-2.06zM449.90 266.80h2.06v12.86h-2.06zM449.90 279.60h2.06v13.06h-2.06zM451.90 229.50h1.06v12.26h-1.06zM451.90 241.70h1.06v12.56h-1.06zM451.90 254.20h1.06v12.66h-1.06zM451.90 266.80h1.06v12.86h-1.06zM451.90 279.60h1.06v13.06h-1.06zM452.90 229.50h1.56v12.26h-1.56zM452.90 254.20h1.56v12.66h-1.56zM452.90 266.80h1.56v12.86h-1.56zM452.90 279.60h1.56v13.06h-1.56zM454.40 229.50h1.06v12.26h-1.06zM454.40 254.20h1.06v12.66h-1.06zM454.40 266.80h1.06v12.86h-1.06zM454.40 279.60h1.06v13.06h-1.06zM455.40 229.50h2.56v12.26h-2.56zM455.40 241.70h2.56v12.56h-2.56zM455.40 254.20h2.56v12.66h-2.56zM455.40 266.80h2.56v12.86h-2.56zM455.40 279.60h2.56v13.06h-2.56zM458.70 229.50h1.06v12.26h-1.06zM458.70 241.70h1.06v12.56h-1.06zM458.70 254.20h1.06v12.66h-1.06zM458.70 279.60h1.06v13.06h-1.06zM459.70 229.50h1.26v12.26h-1.26zM459.70 241.70h1.26v12.56h-1.26zM459.70 254.20h1.26v12.66h-1.26zM459.70 266.80h1.26v12.86h-1.26zM459.70 279.60h1.26v13.06h-1.26zM460.90 229.50h0.86v12.26h-0.86zM460.90 241.70h0.86v12.56h-0.86zM460.90 254.20h0.86v12.66h-0.86zM460.90 266.80h0.86v12.86h-0.86zM460.90 279.60h0.86v13.06h-0.86zM461.70 241.70h2.56v12.56h-2.56zM461.70 266.80h2.56v12.86h-2.56zM461.70 279.60h2.56v13.06h-2.56zM464.20 229.50h2.06v12.26h-2.06zM464.20 241.70h2.06v12.56h-2.06zM464.20 266.80h2.06v12.86h-2.06zM466.20 241.70h0.86v12.56h-0.86zM466.20 266.80h0.86v12.86h-0.86zM467.00 229.50h2.06v12.26h-2.06zM467.00 241.70h2.06v12.56h-2.06zM467.00 279.60h2.06v13.06h-2.06zM469.00 229.50h1.56v12.26h-1.56zM469.00 279.60h1.56v13.06h-1.56zM470.50 241.70h1.06v12.56h-1.06zM470.50 254.20h1.06v12.66h-1.06zM470.50 266.80h1.06v12.86h-1.06zM471.50 241.70h1.16v12.56h-1.16z" fill="#2e70b6"/><path d="M331.40 254.20h1.26v12.66h-1.26zM337.60 241.70h1.26v12.56h-1.26zM393.40 254.20h1.26v12.66h-1.26zM449.30 279.60h0.66v13.06h-0.66z" fill="#8aacd4"/><path d="M331.40 266.80h1.26v12.86h-1.26zM336.60 254.20h1.06v12.66h-1.06zM379.80 266.80h1.06v12.86h-1.06zM399.40 229.50h2.06v12.26h-2.06zM399.40 254.20h2.06v12.66h-2.06zM399.40 266.80h2.06v12.86h-2.06zM399.40 279.60h2.06v13.06h-2.06zM417.60 229.50h2.06v12.26h-2.06zM443.60 266.80h1.06v12.86h-1.06zM457.90 279.60h0.86v13.06h-0.86zM469.00 254.20h1.56v12.66h-1.56zM469.00 266.80h1.56v12.86h-1.56z" fill="#4780be"/><path d="M331.40 279.60h1.26v13.06h-1.26zM332.60 254.20h1.06v12.66h-1.06zM332.60 279.60h1.06v13.06h-1.06zM333.60 241.70h1.56v12.56h-1.56zM333.60 254.20h1.56v12.66h-1.56zM336.60 266.80h1.06v12.86h-1.06zM340.60 266.80h1.26v12.86h-1.26zM345.30 229.50h1.06v12.26h-1.06zM345.30 254.20h1.06v12.66h-1.06zM346.30 229.50h1.06v12.26h-1.06zM346.30 254.20h1.06v12.66h-1.06zM346.30 266.80h1.06v12.86h-1.06zM346.30 279.60h1.06v13.06h-1.06zM348.50 241.70h0.66v12.56h-0.66zM348.50 254.20h0.66v12.66h-0.66zM348.50 266.80h0.66v12.86h-0.66zM349.10 229.50h2.56v12.26h-2.56zM354.20 279.60h1.06v13.06h-1.06zM355.20 229.50h0.86v12.26h-0.86zM356.00 254.20h1.26v12.66h-1.26zM358.20 241.70h1.06v12.56h-1.06zM358.20 254.20h1.06v12.66h-1.06zM365.90 229.50h1.26v12.26h-1.26zM367.10 241.70h1.26v12.56h-1.26zM367.10 266.80h1.26v12.86h-1.26zM368.30 241.70h0.66v12.56h-0.66zM368.30 266.80h0.66v12.86h-0.66zM371.10 229.50h1.26v12.26h-1.26zM372.30 241.70h0.66v12.56h-0.66zM372.30 254.20h0.66v12.66h-0.66zM372.30 266.80h0.66v12.86h-0.66zM374.90 266.80h1.06v12.86h-1.06zM378.40 229.50h0.86v12.26h-0.86zM378.40 266.80h0.86v12.86h-0.86zM378.40 279.60h0.86v13.06h-0.86zM379.20 254.20h0.66v12.66h-0.66zM379.80 241.70h1.06v12.56h-1.06zM380.80 241.70h0.66v12.56h-0.66zM381.40 229.50h1.06v12.26h-1.06zM381.40 266.80h1.06v12.86h-1.06zM383.40 279.60h1.26v13.06h-1.26zM386.80 229.50h1.26v12.26h-1.26zM391.60 229.50h1.06v12.26h-1.06zM394.60 254.20h2.06v12.66h-2.06zM394.60 279.60h2.06v13.06h-2.06zM396.60 254.20h0.86v12.66h-0.86zM396.60 279.60h0.86v13.06h-0.86zM397.40 279.60h1.26v13.06h-1.26zM405.30 254.20h1.56v12.66h-1.56zM406.80 241.70h2.06v12.56h-2.06zM413.50 266.80h0.66v12.86h-0.66zM413.50 279.60h0.66v13.06h-0.66zM417.60 241.70h2.06v12.56h-2.06zM417.60 266.80h2.06v12.86h-2.06zM423.80 229.50h1.56v12.26h-1.56zM423.80 279.60h1.56v13.06h-1.56zM425.30 266.80h0.66v12.86h-0.66zM425.30 279.60h0.66v13.06h-0.66zM426.70 241.70h2.56v12.56h-2.56zM426.70 254.20h2.56v12.66h-2.56zM430.20 279.60h0.86v13.06h-0.86zM431.00 279.60h0.86v13.06h-0.86zM435.70 266.80h0.66v12.86h-0.66zM435.70 279.60h0.66v13.06h-0.66zM437.10 241.70h1.56v12.56h-1.56zM439.80 266.80h0.66v12.86h-0.66zM442.40 241.70h1.26v12.56h-1.26zM442.40 254.20h1.26v12.66h-1.26zM442.40 266.80h1.26v12.86h-1.26zM449.90 254.20h2.06v12.66h-2.06zM454.40 241.70h1.06v12.56h-1.06zM457.90 229.50h0.86v12.26h-0.86zM457.90 241.70h0.86v12.56h-0.86zM457.90 254.20h0.86v12.66h-0.86zM457.90 266.80h0.86v12.86h-0.86zM466.20 229.50h0.86v12.26h-0.86zM467.00 254.20h2.06v12.66h-2.06zM467.00 266.80h2.06v12.86h-2.06zM469.00 241.70h1.56v12.56h-1.56zM470.50 279.60h1.06v13.06h-1.06zM471.50 229.50h1.16v12.26h-1.16z" fill="#3676b9"/><path d="M359.20 266.80h1.56v12.86h-1.56zM404.70 241.70h0.66v12.56h-0.66zM419.60 241.70h1.56v12.56h-1.56zM433.20 229.50h2.56v12.26h-2.56zM436.30 229.50h0.86v12.26h-0.86zM436.30 266.80h0.86v12.86h-0.86zM464.20 279.60h2.06v13.06h-2.06z" fill="#81a7d1"/><path d="M362.50 241.70h1.06v12.56h-1.06zM396.60 266.80h0.86v12.86h-0.86zM413.50 241.70h0.66v12.56h-0.66zM452.90 241.70h1.56v12.56h-1.56zM464.20 254.20h2.06v12.66h-2.06z" fill="#9ab8d9"/><path d="M364.90 254.20h1.06v12.66h-1.06zM382.40 279.60h1.06v13.06h-1.06zM397.40 266.80h1.26v12.86h-1.26zM403.90 254.20h0.86v12.66h-0.86zM448.30 241.70h1.06v12.56h-1.06z" fill="#6896c9"/><path d="M368.30 254.20h0.66v12.66h-0.66zM383.40 254.20h1.26v12.66h-1.26z" fill="#a3bddc"/><path d="M372.90 241.70h2.06v12.56h-2.06zM381.40 279.60h1.06v13.06h-1.06zM412.50 279.60h1.06v13.06h-1.06z" fill="#79a2ce"/><path d="M397.40 241.70h1.26v12.56h-1.26zM404.70 254.20h0.66v12.66h-0.66zM406.80 229.50h2.06v12.26h-2.06zM412.50 241.70h1.06v12.56h-1.06z" fill="#6091c6"/><path d="M435.70 254.20h0.66v12.66h-0.66z" fill="#4f86c1"/></g><text x="246.30" y="225.00" font-size="8.4" text-anchor="end">WM5</text><text x="246.30" y="237.65" font-size="8.4" text-anchor="end">WM42</text><text x="246.30" y="250.30" font-size="8.4" text-anchor="end">WM44</text><text x="246.30" y="262.95" font-size="8.4" text-anchor="end">WM53</text><text x="246.30" y="275.60" font-size="8.4" text-anchor="end">WM23</text><text x="246.30" y="288.25" font-size="8.4" text-anchor="end">WM37</text><text x="474.40" y="224.20" font-size="8.6" textLength="31.60" lengthAdjust="spacingAndGlyphs">(chr6 wt)</text><text x="462.30" y="302.10" font-size="5.6" text-anchor="middle" textLength="18.80" lengthAdjust="spacingAndGlyphs">log ratio</text><rect x="448.10" y="304.80" width="28.80" height="5.00" fill="url(#lr)"/><text x="449.00" y="318.30" font-size="5.6" text-anchor="middle">-1</text><text x="462.70" y="318.30" font-size="5.6" text-anchor="middle">0</text><text x="476.90" y="318.30" font-size="5.6" text-anchor="middle">+1</text><line x1="41.40" y1="365.10" x2="41.40" y2="461.30" stroke="#231f20" stroke-width="1.2"/><line x1="40.80" y1="461.30" x2="114.60" y2="461.30" stroke="#231f20" stroke-width="1.2"/><line x1="38.40" y1="460.60" x2="41.40" y2="460.60" stroke="#231f20" stroke-width="1"/><text x="35.80" y="463.70" font-size="9.0" text-anchor="end" textLength="4.60" lengthAdjust="spacingAndGlyphs">0</text><line x1="38.40" y1="437.35" x2="41.40" y2="437.35" stroke="#231f20" stroke-width="1"/><text x="35.80" y="440.45" font-size="9.0" text-anchor="end" textLength="13.80" lengthAdjust="spacingAndGlyphs">200</text><line x1="38.40" y1="414.10" x2="41.40" y2="414.10" stroke="#231f20" stroke-width="1"/><text x="35.80" y="417.20" font-size="9.0" text-anchor="end" textLength="13.80" lengthAdjust="spacingAndGlyphs">400</text><line x1="38.40" y1="390.85" x2="41.40" y2="390.85" stroke="#231f20" stroke-width="1"/><text x="35.80" y="393.95" font-size="9.0" text-anchor="end" textLength="13.80" lengthAdjust="spacingAndGlyphs">600</text><line x1="38.40" y1="367.60" x2="41.40" y2="367.60" stroke="#231f20" stroke-width="1"/><text x="35.80" y="370.70" font-size="9.0" text-anchor="end" textLength="13.80" lengthAdjust="spacingAndGlyphs">800</text><line x1="55.90" y1="461.30" x2="55.90" y2="463.60" stroke="#231f20" stroke-width="1"/><line x1="77.40" y1="461.30" x2="77.40" y2="463.60" stroke="#231f20" stroke-width="1"/><line x1="99.20" y1="461.30" x2="99.20" y2="463.60" stroke="#231f20" stroke-width="1"/><text x="16.80" y="412.90" font-size="9.6" text-anchor="middle" textLength="107.30" lengthAdjust="spacingAndGlyphs" transform="rotate(-90 16.80 412.90)">HIST1H2BK expression (RPKM)</text><line x1="49.50" y1="456.00" x2="62.50" y2="456.00" stroke="#333" stroke-width="0.9"/><line x1="70.30" y1="447.50" x2="84.80" y2="447.50" stroke="#333" stroke-width="0.9"/><line x1="92.50" y1="431.50" x2="106.50" y2="431.50" stroke="#333" stroke-width="0.9"/><g fill="#4a1a6e"><circle cx="51.00" cy="455.20" r="1.75"/><circle cx="51.40" cy="458.00" r="1.75"/><circle cx="53.50" cy="456.00" r="1.75"/><circle cx="55.50" cy="456.80" r="1.75"/><circle cx="57.60" cy="456.00" r="1.75"/><circle cx="59.40" cy="454.50" r="1.75"/><circle cx="60.20" cy="457.30" r="1.75"/><circle cx="61.40" cy="453.30" r="1.75"/><circle cx="61.40" cy="455.80" r="1.75"/><path d="M71.90,441.00 L73.90,444.50 L69.90,444.50 Z"/><path d="M77.70,439.30 L79.70,442.80 L75.70,442.80 Z"/><path d="M77.70,441.80 L79.70,445.30 L75.70,445.30 Z"/><path d="M83.30,441.60 L85.30,445.10 L81.30,445.10 Z"/><path d="M74.70,446.10 L76.70,449.60 L72.70,449.60 Z"/><path d="M80.40,445.80 L82.40,449.30 L78.40,449.30 Z"/><path d="M71.90,449.20 L73.90,452.70 L69.90,452.70 Z"/><path d="M77.70,450.10 L79.70,453.60 L75.70,453.60 Z"/><path d="M83.30,451.50 L85.30,455.00 L81.30,455.00 Z"/><path d="M71.90,454.40 L73.90,457.90 L69.90,457.90 Z"/><rect x="97.45" y="388.85" width="3.5" height="3.5"/><rect x="97.45" y="422.05" width="3.5" height="3.5"/><rect x="94.45" y="429.85" width="3.5" height="3.5"/><rect x="100.55" y="430.45" width="3.5" height="3.5"/><rect x="97.45" y="436.55" width="3.5" height="3.5"/></g><text x="63.50" y="368.50" font-size="7.6" textLength="28.50" lengthAdjust="spacingAndGlyphs">P=0.019</text><line x1="55.80" y1="370.80" x2="99.00" y2="370.80" stroke="#231f20" stroke-width="1.0"/><text x="49.60" y="381.00" font-size="7.6" textLength="32.10" lengthAdjust="spacingAndGlyphs">P=0.0008</text><line x1="55.80" y1="382.90" x2="77.90" y2="382.90" stroke="#231f20" stroke-width="1.0"/><text x="58.70" y="473.10" font-size="9.2" text-anchor="end" textLength="30.50" lengthAdjust="spacingAndGlyphs" transform="rotate(-45 58.70 473.10)">MBC-like</text><text x="80.20" y="473.10" font-size="9.2" text-anchor="end" textLength="46.00" lengthAdjust="spacingAndGlyphs" transform="rotate(-45 80.20 473.10)">PC-like 6p wt</text><text x="102.00" y="473.10" font-size="9.2" text-anchor="end" textLength="40.00" lengthAdjust="spacingAndGlyphs" transform="rotate(-45 102.00 473.10)">PC-like +6p</text><line x1="153.80" y1="364.80" x2="153.80" y2="461.30" stroke="#231f20" stroke-width="1.2"/><line x1="153.20" y1="461.30" x2="226.90" y2="461.30" stroke="#231f20" stroke-width="1.2"/><line x1="150.80" y1="461.10" x2="153.80" y2="461.10" stroke="#231f20" stroke-width="1"/><text x="146.70" y="464.20" font-size="9.0" text-anchor="end" textLength="4.60" lengthAdjust="spacingAndGlyphs">0</text><line x1="150.80" y1="442.34" x2="153.80" y2="442.34" stroke="#231f20" stroke-width="1"/><text x="146.70" y="445.44" font-size="9.0" text-anchor="end" textLength="9.20" lengthAdjust="spacingAndGlyphs">10</text><line x1="150.80" y1="423.58" x2="153.80" y2="423.58" stroke="#231f20" stroke-width="1"/><text x="146.70" y="426.68" font-size="9.0" text-anchor="end" textLength="9.20" lengthAdjust="spacingAndGlyphs">20</text><line x1="150.80" y1="404.82" x2="153.80" y2="404.82" stroke="#231f20" stroke-width="1"/><text x="146.70" y="407.92" font-size="9.0" text-anchor="end" textLength="9.20" lengthAdjust="spacingAndGlyphs">30</text><line x1="150.80" y1="386.06" x2="153.80" y2="386.06" stroke="#231f20" stroke-width="1"/><text x="146.70" y="389.16" font-size="9.0" text-anchor="end" textLength="9.20" lengthAdjust="spacingAndGlyphs">40</text><line x1="150.80" y1="367.30" x2="153.80" y2="367.30" stroke="#231f20" stroke-width="1"/><text x="146.70" y="370.40" font-size="9.0" text-anchor="end" textLength="9.20" lengthAdjust="spacingAndGlyphs">50</text><line x1="168.50" y1="461.30" x2="168.50" y2="463.60" stroke="#231f20" stroke-width="1"/><line x1="190.30" y1="461.30" x2="190.30" y2="463.60" stroke="#231f20" stroke-width="1"/><line x1="211.80" y1="461.30" x2="211.80" y2="463.60" stroke="#231f20" stroke-width="1"/><text x="132.00" y="412.40" font-size="9.6" text-anchor="middle" textLength="97.60" lengthAdjust="spacingAndGlyphs" transform="rotate(-90 132.00 412.40)">HIST1H4I expression (RPKM)</text><line x1="163.80" y1="453.10" x2="175.40" y2="453.10" stroke="#333" stroke-width="0.9"/><line x1="183.00" y1="444.30" x2="197.00" y2="444.30" stroke="#333" stroke-width="0.9"/><line x1="205.40" y1="418.20" x2="218.50" y2="418.20" stroke="#333" stroke-width="0.9"/><g fill="#4a1a6e"><circle cx="166.50" cy="448.20" r="1.75"/><circle cx="162.40" cy="450.10" r="1.75"/><circle cx="170.10" cy="451.20" r="1.75"/><circle cx="174.10" cy="450.40" r="1.75"/><circle cx="162.20" cy="453.10" r="1.75"/><circle cx="166.30" cy="454.60" r="1.75"/><circle cx="170.10" cy="456.30" r="1.75"/><circle cx="174.10" cy="454.60" r="1.75"/><circle cx="162.40" cy="457.30" r="1.75"/><path d="M190.30,431.00 L192.30,434.50 L188.30,434.50 Z"/><path d="M184.20,435.60 L186.20,439.10 L182.20,439.10 Z"/><path d="M195.80,434.80 L197.80,438.30 L193.80,438.30 Z"/><path d="M190.30,437.60 L192.30,441.10 L188.30,441.10 Z"/><path d="M184.20,441.30 L186.20,444.80 L182.20,444.80 Z"/><path d="M190.30,443.30 L192.30,446.80 L188.30,446.80 Z"/><path d="M184.20,444.80 L186.20,448.30 L182.20,448.30 Z"/><path d="M195.80,446.40 L197.80,449.90 L193.80,449.90 Z"/><path d="M190.30,448.40 L192.30,451.90 L188.30,451.90 Z"/><path d="M190.30,452.10 L192.30,455.60 L188.30,455.60 Z"/><rect x="209.95" y="374.25" width="3.5" height="3.5"/><rect x="210.05" y="412.05" width="3.5" height="3.5"/><rect x="206.75" y="416.45" width="3.5" height="3.5"/><rect x="213.65" y="416.75" width="3.5" height="3.5"/><rect x="210.05" y="421.65" width="3.5" height="3.5"/></g><text x="176.20" y="369.20" font-size="7.6" textLength="28.20" lengthAdjust="spacingAndGlyphs">P=0.014</text><line x1="168.50" y1="370.60" x2="212.00" y2="370.60" stroke="#231f20" stroke-width="1.0"/><text x="166.00" y="380.80" font-size="7.6" textLength="27.80" lengthAdjust="spacingAndGlyphs">P=0.007</text><line x1="168.80" y1="383.10" x2="191.00" y2="383.10" stroke="#231f20" stroke-width="1.0"/><text x="171.30" y="473.10" font-size="9.2" text-anchor="end" textLength="30.50" lengthAdjust="spacingAndGlyphs" transform="rotate(-45 171.30 473.10)">MBC-like</text><text x="193.10" y="473.10" font-size="9.2" text-anchor="end" textLength="46.00" lengthAdjust="spacingAndGlyphs" transform="rotate(-45 193.10 473.10)">PC-like 6p wt</text><text x="214.60" y="473.10" font-size="9.2" text-anchor="end" textLength="40.00" lengthAdjust="spacingAndGlyphs" transform="rotate(-45 214.60 473.10)">PC-like +6p</text><line x1="270.30" y1="365.20" x2="270.30" y2="461.30" stroke="#231f20" stroke-width="1.2"/><line x1="269.70" y1="461.30" x2="343.40" y2="461.30" stroke="#231f20" stroke-width="1.2"/><line x1="267.30" y1="461.30" x2="270.30" y2="461.30" stroke="#231f20" stroke-width="1"/><text x="264.40" y="464.40" font-size="9.0" text-anchor="end" textLength="4.60" lengthAdjust="spacingAndGlyphs">0</text><line x1="267.30" y1="437.90" x2="270.30" y2="437.90" stroke="#231f20" stroke-width="1"/><text x="264.40" y="441.00" font-size="9.0" text-anchor="end" textLength="9.20" lengthAdjust="spacingAndGlyphs">50</text><line x1="267.30" y1="414.50" x2="270.30" y2="414.50" stroke="#231f20" stroke-width="1"/><text x="264.40" y="417.60" font-size="9.0" text-anchor="end" textLength="13.80" lengthAdjust="spacingAndGlyphs">100</text><line x1="267.30" y1="391.10" x2="270.30" y2="391.10" stroke="#231f20" stroke-width="1"/><text x="264.40" y="394.20" font-size="9.0" text-anchor="end" textLength="13.80" lengthAdjust="spacingAndGlyphs">150</text><line x1="267.30" y1="367.70" x2="270.30" y2="367.70" stroke="#231f20" stroke-width="1"/><text x="264.40" y="370.80" font-size="9.0" text-anchor="end" textLength="13.80" lengthAdjust="spacingAndGlyphs">200</text><line x1="284.20" y1="461.30" x2="284.20" y2="463.60" stroke="#231f20" stroke-width="1"/><line x1="306.40" y1="461.30" x2="306.40" y2="463.60" stroke="#231f20" stroke-width="1"/><line x1="328.10" y1="461.30" x2="328.10" y2="463.60" stroke="#231f20" stroke-width="1"/><text x="245.60" y="409.60" font-size="9.6" text-anchor="middle" textLength="85.50" lengthAdjust="spacingAndGlyphs" transform="rotate(-90 245.60 409.60)">H2BFS expression (RPKM)</text><line x1="279.00" y1="455.50" x2="291.00" y2="455.50" stroke="#333" stroke-width="0.9"/><line x1="301.40" y1="446.60" x2="311.60" y2="446.60" stroke="#333" stroke-width="0.9"/><line x1="321.00" y1="430.40" x2="335.50" y2="430.40" stroke="#333" stroke-width="0.9"/><g fill="#4a1a6e"><circle cx="279.00" cy="452.80" r="1.75"/><circle cx="281.00" cy="450.90" r="1.75"/><circle cx="282.30" cy="453.60" r="1.75"/><circle cx="284.80" cy="455.40" r="1.75"/><circle cx="279.00" cy="458.00" r="1.75"/><circle cx="288.30" cy="458.00" r="1.75"/><circle cx="290.20" cy="456.20" r="1.75"/><circle cx="286.30" cy="455.40" r="1.75"/><circle cx="283.50" cy="452.00" r="1.75"/><path d="M301.00,442.30 L303.00,445.80 L299.00,445.80 Z"/><path d="M304.60,440.40 L306.60,443.90 L302.60,443.90 Z"/><path d="M308.50,439.10 L310.50,442.60 L306.50,442.60 Z"/><path d="M312.60,442.30 L314.60,445.80 L310.60,445.80 Z"/><path d="M301.00,445.10 L303.00,448.60 L299.00,448.60 Z"/><path d="M304.60,443.60 L306.60,447.10 L302.60,447.10 Z"/><path d="M308.50,445.10 L310.50,448.60 L306.50,448.60 Z"/><path d="M312.60,445.10 L314.60,448.60 L310.60,448.60 Z"/><path d="M304.60,452.50 L306.60,456.00 L302.60,456.00 Z"/><path d="M308.50,450.70 L310.50,454.20 L306.50,454.20 Z"/><rect x="326.35" y="384.45" width="3.5" height="3.5"/><rect x="326.35" y="419.25" width="3.5" height="3.5"/><rect x="326.65" y="428.25" width="3.5" height="3.5"/><rect x="322.95" y="432.95" width="3.5" height="3.5"/><rect x="329.45" y="432.95" width="3.5" height="3.5"/></g><text x="292.30" y="368.70" font-size="7.6" textLength="28.30" lengthAdjust="spacingAndGlyphs">P=0.021</text><line x1="285.00" y1="370.20" x2="327.00" y2="370.20" stroke="#231f20" stroke-width="1.0"/><text x="278.80" y="380.80" font-size="7.6" textLength="32.40" lengthAdjust="spacingAndGlyphs">P=0.0003</text><line x1="285.20" y1="382.70" x2="307.30" y2="382.70" stroke="#231f20" stroke-width="1.0"/><text x="287.00" y="473.10" font-size="9.2" text-anchor="end" textLength="30.50" lengthAdjust="spacingAndGlyphs" transform="rotate(-45 287.00 473.10)">MBC-like</text><text x="309.20" y="473.10" font-size="9.2" text-anchor="end" textLength="46.00" lengthAdjust="spacingAndGlyphs" transform="rotate(-45 309.20 473.10)">PC-like 6p wt</text><text x="330.90" y="473.10" font-size="9.2" text-anchor="end" textLength="40.00" lengthAdjust="spacingAndGlyphs" transform="rotate(-45 330.90 473.10)">PC-like +6p</text><line x1="401.90" y1="364.50" x2="401.90" y2="461.00" stroke="#231f20" stroke-width="1.2"/><line x1="401.30" y1="461.00" x2="511.80" y2="461.00" stroke="#231f20" stroke-width="1.2"/><line x1="398.90" y1="367.00" x2="401.90" y2="367.00" stroke="#231f20" stroke-width="1"/><text x="397.10" y="370.10" font-size="9.0" text-anchor="end" textLength="9.20" lengthAdjust="spacingAndGlyphs">10</text><line x1="398.90" y1="390.50" x2="401.90" y2="390.50" stroke="#231f20" stroke-width="1"/><text x="397.10" y="393.60" font-size="9.0" text-anchor="end" textLength="4.60" lengthAdjust="spacingAndGlyphs">5</text><line x1="398.90" y1="414.00" x2="401.90" y2="414.00" stroke="#231f20" stroke-width="1"/><text x="397.10" y="417.10" font-size="9.0" text-anchor="end" textLength="4.60" lengthAdjust="spacingAndGlyphs">0</text><line x1="398.90" y1="437.50" x2="401.90" y2="437.50" stroke="#231f20" stroke-width="1"/><text x="397.10" y="440.60" font-size="9.0" text-anchor="end" textLength="8.60" lengthAdjust="spacingAndGlyphs">-5</text><line x1="398.90" y1="461.00" x2="401.90" y2="461.00" stroke="#231f20" stroke-width="1"/><text x="397.10" y="464.10" font-size="9.0" text-anchor="end" textLength="13.20" lengthAdjust="spacingAndGlyphs">-10</text><line x1="424.90" y1="461.00" x2="424.90" y2="463.50" stroke="#231f20" stroke-width="1"/><line x1="457.30" y1="461.00" x2="457.30" y2="463.50" stroke="#231f20" stroke-width="1"/><line x1="489.60" y1="461.00" x2="489.60" y2="463.50" stroke="#231f20" stroke-width="1"/><path d="M421.50,396.80 L420.40,398.00 L418.90,399.80 L417.80,401.50 L416.80,402.90 L416.10,404.30 L416.30,405.30 L415.70,406.50 L415.00,408.00 L415.20,408.90 L415.20,410.30 L414.60,412.00 L414.30,413.40 L414.80,414.50 L416.20,415.80 L417.60,417.00 L419.80,418.20 L422.00,419.30 L427.20,419.30 L429.40,418.20 L431.60,417.00 L433.00,415.80 L434.40,414.50 L434.90,413.40 L434.60,412.00 L434.00,410.30 L434.00,408.90 L434.20,408.00 L433.50,406.50 L432.90,405.30 L433.10,404.30 L432.40,402.90 L431.40,401.50 L430.30,399.80 L428.80,398.00 L427.70,396.80 Z" fill="#a8002c"/><line x1="416.70" y1="405.00" x2="432.50" y2="405.00" stroke="#6a0019" stroke-width="0.7"/><line x1="415.60" y1="408.50" x2="433.60" y2="408.50" stroke="#6a0019" stroke-width="0.7"/><line x1="414.90" y1="413.40" x2="434.30" y2="413.40" stroke="#6a0019" stroke-width="0.7"/><path d="M456.60,406.00 L455.80,406.80 L455.30,408.50 L454.50,410.00 L453.30,410.90 L451.40,411.70 L449.10,412.40 L447.10,412.90 L446.70,413.40 L447.90,413.90 L450.40,414.40 L452.10,415.00 L452.90,415.80 L453.90,416.70 L454.90,417.50 L456.40,418.30 L457.40,418.30 L458.90,417.50 L459.90,416.70 L460.90,415.80 L461.70,415.00 L463.40,414.40 L465.90,413.90 L467.10,413.40 L466.70,412.90 L464.70,412.40 L462.40,411.70 L460.50,410.90 L459.30,410.00 L458.50,408.50 L458.00,406.80 L457.20,406.00 Z" fill="#2b4a8a"/><line x1="401.90" y1="414.40" x2="510.50" y2="414.40" stroke="#505050" stroke-width="0.9"/><line x1="489.50" y1="368.50" x2="489.50" y2="446.80" stroke="#7a7a7a" stroke-width="0.75"/><path d="M478.6,414.2 C483.5,413.7 487.2,412.0 488.9,409.6 L489.5,404.5 L490.1,409.6 C491.8,412.0 495.5,413.7 500.4,414.2 C495.5,414.7 491.8,416.4 490.1,418.8 L489.5,424.0 L488.9,418.8 C487.2,416.4 483.5,414.7 478.6,414.2 Z" fill="#c4c4c4" stroke="#6a6a6a" stroke-width="0.7"/><line x1="486.30" y1="412.30" x2="492.70" y2="412.30" stroke="#9a9a9a" stroke-width="0.35"/><line x1="483.50" y1="413.20" x2="495.50" y2="413.20" stroke="#9a9a9a" stroke-width="0.35"/><line x1="483.50" y1="415.20" x2="495.50" y2="415.20" stroke="#9a9a9a" stroke-width="0.35"/><line x1="486.30" y1="416.10" x2="492.70" y2="416.10" stroke="#9a9a9a" stroke-width="0.35"/><line x1="424.00" y1="364.00" x2="487.00" y2="364.00" stroke="#555" stroke-width="1.1"/><text x="440.40" y="362.10" font-size="7.6" textLength="24.80" lengthAdjust="spacingAndGlyphs">P&lt;1x10</text><text x="465.60" y="357.60" font-size="5.0">-8</text><text x="455.80" y="378.00" font-size="7.6" textLength="30.70" lengthAdjust="spacingAndGlyphs">P&lt;0.0001</text><line x1="456.70" y1="380.10" x2="486.50" y2="380.10" stroke="#231f20" stroke-width="1.0"/><text x="366.00" y="412.40" font-size="10.0" text-anchor="middle" textLength="99.80" lengthAdjust="spacingAndGlyphs" transform="rotate(-90 366.00 412.40)">Expression PC-like / MBC-like</text><text x="376.30" y="430.10" font-size="10.0" textLength="28.00" lengthAdjust="spacingAndGlyphs" transform="rotate(-90 376.30 430.10)">WM (log</text><text x="378.30" y="401.90" font-size="6.8" transform="rotate(-90 378.30 401.90)">2</text><text x="376.30" y="398.00" font-size="10.0" transform="rotate(-90 376.30 398.00)">)</text><text x="427.10" y="472.30" font-size="9.6" text-anchor="end" textLength="24.00" lengthAdjust="spacingAndGlyphs" transform="rotate(-45 427.10 472.30)">PC-like</text><text x="434.70" y="478.60" font-size="9.6" text-anchor="end" textLength="34.80" lengthAdjust="spacingAndGlyphs" transform="rotate(-45 434.70 478.60)">+6p (n=5)</text><text x="459.50" y="472.30" font-size="9.6" text-anchor="end" textLength="24.00" lengthAdjust="spacingAndGlyphs" transform="rotate(-45 459.50 472.30)">PC-like</text><text x="467.10" y="478.60" font-size="9.6" text-anchor="end" textLength="33.60" lengthAdjust="spacingAndGlyphs" transform="rotate(-45 467.10 478.60)">wt (n=10)</text><text x="491.80" y="472.30" font-size="9.6" text-anchor="end" textLength="33.50" lengthAdjust="spacingAndGlyphs" transform="rotate(-45 491.80 472.30)">all PC-like</text><text x="499.40" y="478.60" font-size="9.6" text-anchor="end" textLength="24.00" lengthAdjust="spacingAndGlyphs" transform="rotate(-45 499.40 478.60)">(n=15)</text><line x1="411.00" y1="507.00" x2="469.70" y2="507.00" stroke="#444" stroke-width="1.1"/><line x1="475.00" y1="507.00" x2="504.00" y2="507.00" stroke="#444" stroke-width="1.1"/><text x="440.30" y="517.40" font-size="8.4" text-anchor="middle" textLength="58.70" lengthAdjust="spacingAndGlyphs">histone cluster 1</text><text x="440.30" y="526.60" font-size="8.4" text-anchor="middle">genes</text><text x="489.50" y="517.40" font-size="8.4" text-anchor="middle">all</text><text x="489.50" y="526.60" font-size="8.4" text-anchor="middle">genes</text><rect x="0.5" y="0.5" width="519" height="535" fill="none" stroke="#000" stroke-width="1.2"/></svg></body></html>
